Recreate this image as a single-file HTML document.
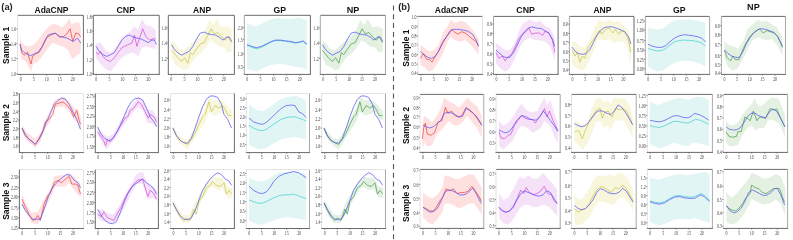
<!DOCTYPE html>
<html><head><meta charset="utf-8"><style>
html,body{margin:0;padding:0;background:#fff;width:793px;height:239px;overflow:hidden}
svg{display:block;will-change:transform}
.t{font-family:"Liberation Serif", serif;font-size:5.3px;fill:#3a3a3a}
.h{font-family:"Liberation Sans", sans-serif;font-size:9.5px;font-weight:bold;fill:#111}
.s{font-family:"Liberation Sans",sans-serif;font-size:9.7px;font-weight:bold;fill:#111}
.pl{font-family:"Liberation Sans", sans-serif;font-size:9.3px;font-weight:bold;fill:#222}
</style></head><body>
<svg width="793" height="239" viewBox="0 0 793 239">
<rect width="793" height="239" fill="#fff"/>
<path d="M20.01,37.09 L21.76,42.62 L24.27,45.13 L29.29,46.38 L33.06,45.13 L38.08,40.10 L43.10,33.08 L48.12,27.05 L53.14,23.79 L58.15,25.04 L61.92,27.55 L65.68,23.79 L69.45,18.77 L71.96,25.04 L75.22,22.53 L79.49,22.53 L80.74,28.81 L80.74,52.66 L76.98,55.17 L73.21,58.93 L70.70,56.42 L68.19,50.15 L63.17,46.38 L58.15,45.13 L53.14,42.62 L48.12,47.64 L43.10,55.17 L38.08,61.44 L33.06,63.95 L31.05,71.49 L29.29,67.72 L25.53,61.44 L21.76,58.93 L20.01,52.66 Z" fill="#ffe0e0" stroke="none"/>
<path d="M20.01,43.87 L21.76,52.66 L24.27,55.17 L27.54,52.15 L29.29,58.93 L31.05,63.95 L32.56,56.42 L35.57,53.91 L39.33,52.15 L43.10,45.13 L46.86,37.59 L50.63,35.08 L55.14,33.08 L59.41,37.09 L63.17,36.84 L66.94,33.83 L70.20,28.81 L72.71,41.36 L75.72,33.08 L78.73,33.83 L80.74,37.09" fill="none" stroke="#f04545" stroke-width="0.75" stroke-linejoin="round"/>
<path d="M20.01,44.62 L21.76,50.15 L24.27,52.66 L26.78,53.91 L30.55,55.67 L34.31,53.91 L38.08,52.15 L41.84,47.13 L45.10,40.10 L48.12,35.08 L51.88,33.83 L55.64,33.33 L59.41,36.34 L63.17,37.09 L66.94,38.10 L70.70,40.10 L73.21,41.36 L77.48,38.10 L80.74,43.12" fill="none" stroke="#5656f4" stroke-width="0.75" stroke-linejoin="round"/>
<line x1="17.60" y1="15.30" x2="83.40" y2="15.30" stroke="#6a6a6a" stroke-width="1"/>
<line x1="17.60" y1="15.30" x2="17.60" y2="74.40" stroke="#e2e2e2" stroke-width="1"/>
<line x1="83.40" y1="15.30" x2="83.40" y2="74.40" stroke="#6a6a6a" stroke-width="1"/>
<line x1="17.10" y1="74.40" x2="83.90" y2="74.40" stroke="#6a6a6a" stroke-width="1"/>
<line x1="16.20" y1="29.02" x2="17.60" y2="29.02" stroke="#555" stroke-width="0.6"/>
<text transform="translate(16.00,31.22) scale(0.74,1)" text-anchor="end" class="t">1.6</text>
<line x1="16.20" y1="43.81" x2="17.60" y2="43.81" stroke="#555" stroke-width="0.6"/>
<text transform="translate(16.00,46.01) scale(0.74,1)" text-anchor="end" class="t">1.4</text>
<line x1="16.20" y1="58.60" x2="17.60" y2="58.60" stroke="#555" stroke-width="0.6"/>
<text transform="translate(16.00,60.80) scale(0.74,1)" text-anchor="end" class="t">1.2</text>
<line x1="16.20" y1="73.81" x2="17.60" y2="73.81" stroke="#555" stroke-width="0.6"/>
<text transform="translate(16.00,76.01) scale(0.74,1)" text-anchor="end" class="t">1.0</text>
<line x1="20.63" y1="74.40" x2="20.63" y2="75.80" stroke="#555" stroke-width="0.6"/>
<text transform="translate(20.63,80.80) scale(0.74,1)" text-anchor="middle" class="t">0</text>
<line x1="33.66" y1="74.40" x2="33.66" y2="75.80" stroke="#555" stroke-width="0.6"/>
<text transform="translate(33.66,80.80) scale(0.74,1)" text-anchor="middle" class="t">5</text>
<line x1="46.68" y1="74.40" x2="46.68" y2="75.80" stroke="#555" stroke-width="0.6"/>
<text transform="translate(46.68,80.80) scale(0.74,1)" text-anchor="middle" class="t">10</text>
<line x1="59.71" y1="74.40" x2="59.71" y2="75.80" stroke="#555" stroke-width="0.6"/>
<text transform="translate(59.71,80.80) scale(0.74,1)" text-anchor="middle" class="t">15</text>
<line x1="72.74" y1="74.40" x2="72.74" y2="75.80" stroke="#555" stroke-width="0.6"/>
<text transform="translate(72.74,80.80) scale(0.74,1)" text-anchor="middle" class="t">20</text>
<path d="M96.01,43.87 L100.53,42.62 L105.55,50.15 L110.57,52.66 L115.58,47.64 L120.60,40.10 L125.62,35.08 L130.64,31.32 L134.40,26.30 L138.17,30.06 L141.93,18.77 L145.70,25.04 L150.72,26.30 L155.73,30.06 L155.73,48.89 L150.72,47.64 L145.70,46.38 L141.93,47.64 L138.17,56.42 L134.40,52.66 L130.64,52.66 L125.62,55.17 L120.60,58.93 L115.58,65.21 L110.57,71.49 L105.55,68.97 L100.53,63.95 L96.01,57.68 Z" fill="#f6e2f8" stroke="none"/>
<path d="M96.01,52.15 L98.02,54.67 L100.53,51.40 L103.04,56.42 L106.80,60.19 L110.57,61.44 L114.33,57.68 L118.09,52.66 L121.86,47.64 L124.37,46.38 L128.13,44.62 L131.90,43.12 L134.40,35.08 L136.91,46.38 L139.42,38.85 L142.69,28.81 L145.70,36.34 L149.46,40.10 L153.22,38.85 L155.73,38.85" fill="none" stroke="#d450d8" stroke-width="0.75" stroke-linejoin="round"/>
<path d="M96.01,46.38 L99.27,51.40 L103.04,54.67 L106.80,56.42 L110.57,54.67 L114.33,52.66 L118.09,46.38 L121.86,40.10 L125.62,36.34 L129.39,35.08 L133.15,37.09 L136.91,38.10 L140.68,38.85 L144.44,40.61 L148.21,42.62 L151.97,40.10 L154.48,40.10 L156.49,44.62" fill="none" stroke="#5656f4" stroke-width="0.75" stroke-linejoin="round"/>
<line x1="93.30" y1="15.30" x2="159.20" y2="15.30" stroke="#6a6a6a" stroke-width="1"/>
<line x1="93.30" y1="15.30" x2="93.30" y2="74.40" stroke="#6a6a6a" stroke-width="1"/>
<line x1="159.20" y1="15.30" x2="159.20" y2="74.40" stroke="#6a6a6a" stroke-width="1"/>
<line x1="92.80" y1="74.40" x2="159.70" y2="74.40" stroke="#6a6a6a" stroke-width="1"/>
<line x1="91.90" y1="16.78" x2="93.30" y2="16.78" stroke="#555" stroke-width="0.6"/>
<text transform="translate(91.70,18.98) scale(0.74,1)" text-anchor="end" class="t">1.8</text>
<line x1="91.90" y1="31.04" x2="93.30" y2="31.04" stroke="#555" stroke-width="0.6"/>
<text transform="translate(91.70,33.24) scale(0.74,1)" text-anchor="end" class="t">1.6</text>
<line x1="91.90" y1="44.70" x2="93.30" y2="44.70" stroke="#555" stroke-width="0.6"/>
<text transform="translate(91.70,46.90) scale(0.74,1)" text-anchor="end" class="t">1.4</text>
<line x1="91.90" y1="60.14" x2="93.30" y2="60.14" stroke="#555" stroke-width="0.6"/>
<text transform="translate(91.70,62.34) scale(0.74,1)" text-anchor="end" class="t">1.2</text>
<line x1="91.90" y1="73.81" x2="93.30" y2="73.81" stroke="#555" stroke-width="0.6"/>
<text transform="translate(91.70,76.01) scale(0.74,1)" text-anchor="end" class="t">1.0</text>
<line x1="96.33" y1="74.40" x2="96.33" y2="75.80" stroke="#555" stroke-width="0.6"/>
<text transform="translate(96.33,80.80) scale(0.74,1)" text-anchor="middle" class="t">0</text>
<line x1="109.38" y1="74.40" x2="109.38" y2="75.80" stroke="#555" stroke-width="0.6"/>
<text transform="translate(109.38,80.80) scale(0.74,1)" text-anchor="middle" class="t">5</text>
<line x1="122.43" y1="74.40" x2="122.43" y2="75.80" stroke="#555" stroke-width="0.6"/>
<text transform="translate(122.43,80.80) scale(0.74,1)" text-anchor="middle" class="t">10</text>
<line x1="135.48" y1="74.40" x2="135.48" y2="75.80" stroke="#555" stroke-width="0.6"/>
<text transform="translate(135.48,80.80) scale(0.74,1)" text-anchor="middle" class="t">15</text>
<line x1="148.52" y1="74.40" x2="148.52" y2="75.80" stroke="#555" stroke-width="0.6"/>
<text transform="translate(148.52,80.80) scale(0.74,1)" text-anchor="middle" class="t">20</text>
<path d="M171.51,40.10 L175.27,43.87 L179.04,48.89 L184.06,50.15 L189.08,45.13 L194.10,41.36 L199.11,37.59 L204.13,32.57 L209.15,20.02 L212.92,25.04 L216.68,18.77 L221.70,27.55 L226.72,26.30 L231.74,28.81 L231.74,51.40 L227.97,52.66 L224.21,47.64 L219.19,46.38 L214.17,42.62 L210.41,40.10 L206.64,46.38 L201.62,52.66 L196.60,56.42 L191.59,62.70 L187.82,68.97 L184.06,70.23 L180.29,67.72 L175.27,65.21 L171.51,57.68 Z" fill="#f8f7dd" stroke="none"/>
<path d="M171.51,50.15 L174.02,52.66 L177.78,57.68 L181.55,61.44 L184.56,57.68 L187.82,63.20 L190.33,52.66 L192.84,54.67 L196.60,48.89 L200.37,43.87 L204.13,42.62 L207.90,35.08 L211.16,28.81 L214.17,33.83 L217.94,32.57 L221.70,37.09 L225.46,40.10 L227.97,36.34 L231.74,42.62" fill="none" stroke="#c8c54a" stroke-width="0.75" stroke-linejoin="round"/>
<path d="M171.51,44.62 L174.02,48.89 L177.78,52.66 L181.55,55.17 L185.31,53.16 L189.08,51.40 L192.84,46.38 L196.60,38.85 L200.37,33.08 L204.13,32.07 L207.90,33.83 L211.66,34.58 L215.43,35.08 L219.19,37.09 L222.95,40.10 L226.72,37.09 L229.23,37.09 L231.74,41.36" fill="none" stroke="#5656f4" stroke-width="0.75" stroke-linejoin="round"/>
<line x1="168.30" y1="15.30" x2="234.40" y2="15.30" stroke="#6a6a6a" stroke-width="1"/>
<line x1="168.30" y1="15.30" x2="168.30" y2="74.40" stroke="#6a6a6a" stroke-width="1"/>
<line x1="234.40" y1="15.30" x2="234.40" y2="74.40" stroke="#6a6a6a" stroke-width="1"/>
<line x1="167.80" y1="74.40" x2="234.90" y2="74.40" stroke="#6a6a6a" stroke-width="1"/>
<line x1="166.90" y1="27.71" x2="168.30" y2="27.71" stroke="#555" stroke-width="0.6"/>
<text transform="translate(166.70,29.91) scale(0.74,1)" text-anchor="end" class="t">1.6</text>
<line x1="166.90" y1="42.98" x2="168.30" y2="42.98" stroke="#555" stroke-width="0.6"/>
<text transform="translate(166.70,45.18) scale(0.74,1)" text-anchor="end" class="t">1.4</text>
<line x1="166.90" y1="58.30" x2="168.30" y2="58.30" stroke="#555" stroke-width="0.6"/>
<text transform="translate(166.70,60.50) scale(0.74,1)" text-anchor="end" class="t">1.2</text>
<line x1="171.34" y1="74.40" x2="171.34" y2="75.80" stroke="#555" stroke-width="0.6"/>
<text transform="translate(171.34,80.80) scale(0.74,1)" text-anchor="middle" class="t">0</text>
<line x1="184.43" y1="74.40" x2="184.43" y2="75.80" stroke="#555" stroke-width="0.6"/>
<text transform="translate(184.43,80.80) scale(0.74,1)" text-anchor="middle" class="t">5</text>
<line x1="197.52" y1="74.40" x2="197.52" y2="75.80" stroke="#555" stroke-width="0.6"/>
<text transform="translate(197.52,80.80) scale(0.74,1)" text-anchor="middle" class="t">10</text>
<line x1="210.60" y1="74.40" x2="210.60" y2="75.80" stroke="#555" stroke-width="0.6"/>
<text transform="translate(210.60,80.80) scale(0.74,1)" text-anchor="middle" class="t">15</text>
<line x1="223.69" y1="74.40" x2="223.69" y2="75.80" stroke="#555" stroke-width="0.6"/>
<text transform="translate(223.69,80.80) scale(0.74,1)" text-anchor="middle" class="t">20</text>
<path d="M247.01,22.53 L251.53,25.04 L256.55,26.30 L261.57,23.79 L269.09,20.02 L276.62,18.01 L284.15,18.77 L291.68,18.77 L299.21,17.51 L306.73,20.02 L306.73,69.73 L301.72,67.72 L294.19,66.46 L286.66,64.71 L279.13,63.95 L271.60,64.71 L264.07,67.72 L256.55,71.49 L251.53,70.23 L247.01,68.97 Z" fill="#e1f6f4" stroke="none"/>
<path d="M247.01,45.13 L251.53,47.13 L256.55,48.89 L261.57,47.13 L266.58,44.62 L271.60,41.86 L275.37,40.61 L280.39,40.61 L285.40,41.36 L290.42,42.11 L295.44,43.12 L299.21,42.62 L302.97,41.36 L306.73,44.62" fill="none" stroke="#45cfcf" stroke-width="0.75" stroke-linejoin="round"/>
<path d="M247.01,44.62 L251.53,46.38 L256.55,47.64 L261.57,46.38 L266.58,43.87 L271.60,41.36 L275.37,40.10 L280.39,40.10 L285.40,40.86 L290.42,41.36 L295.44,42.62 L299.21,42.11 L302.97,40.86 L306.73,43.87" fill="none" stroke="#5656f4" stroke-width="0.75" stroke-linejoin="round"/>
<line x1="244.30" y1="15.30" x2="310.40" y2="15.30" stroke="#6a6a6a" stroke-width="1"/>
<line x1="244.30" y1="15.30" x2="244.30" y2="74.40" stroke="#a8a8a8" stroke-width="1"/>
<line x1="310.40" y1="15.30" x2="310.40" y2="74.40" stroke="#6a6a6a" stroke-width="1"/>
<line x1="243.80" y1="74.40" x2="310.90" y2="74.40" stroke="#6a6a6a" stroke-width="1"/>
<line x1="242.90" y1="27.71" x2="244.30" y2="27.71" stroke="#555" stroke-width="0.6"/>
<text transform="translate(242.70,29.91) scale(0.74,1)" text-anchor="end" class="t">2.0</text>
<line x1="242.90" y1="39.59" x2="244.30" y2="39.59" stroke="#555" stroke-width="0.6"/>
<text transform="translate(242.70,41.79) scale(0.74,1)" text-anchor="end" class="t">1.5</text>
<line x1="242.90" y1="54.20" x2="244.30" y2="54.20" stroke="#555" stroke-width="0.6"/>
<text transform="translate(242.70,56.40) scale(0.74,1)" text-anchor="end" class="t">1.0</text>
<line x1="242.90" y1="67.27" x2="244.30" y2="67.27" stroke="#555" stroke-width="0.6"/>
<text transform="translate(242.70,69.47) scale(0.74,1)" text-anchor="end" class="t">0.5</text>
<line x1="247.34" y1="74.40" x2="247.34" y2="75.80" stroke="#555" stroke-width="0.6"/>
<text transform="translate(247.34,80.80) scale(0.74,1)" text-anchor="middle" class="t">0</text>
<line x1="260.43" y1="74.40" x2="260.43" y2="75.80" stroke="#555" stroke-width="0.6"/>
<text transform="translate(260.43,80.80) scale(0.74,1)" text-anchor="middle" class="t">5</text>
<line x1="273.52" y1="74.40" x2="273.52" y2="75.80" stroke="#555" stroke-width="0.6"/>
<text transform="translate(273.52,80.80) scale(0.74,1)" text-anchor="middle" class="t">10</text>
<line x1="286.60" y1="74.40" x2="286.60" y2="75.80" stroke="#555" stroke-width="0.6"/>
<text transform="translate(286.60,80.80) scale(0.74,1)" text-anchor="middle" class="t">15</text>
<line x1="299.69" y1="74.40" x2="299.69" y2="75.80" stroke="#555" stroke-width="0.6"/>
<text transform="translate(299.69,80.80) scale(0.74,1)" text-anchor="middle" class="t">20</text>
<path d="M322.51,40.10 L326.27,43.87 L330.04,48.89 L335.06,50.15 L340.08,45.13 L345.10,41.36 L350.11,37.59 L355.13,32.57 L360.15,20.02 L363.92,25.04 L367.68,18.77 L372.70,27.55 L377.72,26.30 L382.74,28.81 L382.74,51.40 L378.97,52.66 L375.21,47.64 L370.19,46.38 L365.17,42.62 L361.41,40.10 L357.64,46.38 L352.62,52.66 L347.60,56.42 L342.59,62.70 L338.82,68.97 L335.06,70.23 L331.29,67.72 L326.27,65.21 L322.51,57.68 Z" fill="#e4f1e2" stroke="none"/>
<path d="M322.51,50.15 L325.52,53.91 L328.78,58.18 L332.55,61.44 L335.56,57.68 L338.82,63.20 L341.33,52.66 L343.84,54.67 L347.60,48.89 L351.37,43.87 L355.13,42.62 L358.90,35.08 L362.16,28.81 L365.17,33.83 L368.94,32.57 L372.70,37.09 L376.46,40.10 L378.97,36.34 L382.74,42.62" fill="none" stroke="#4a9e4a" stroke-width="0.75" stroke-linejoin="round"/>
<path d="M322.51,44.62 L325.02,48.89 L328.78,52.66 L332.55,55.17 L336.31,53.16 L340.08,51.40 L343.84,46.38 L347.60,38.85 L351.37,33.08 L355.13,32.07 L358.90,33.83 L362.66,34.58 L366.43,35.08 L370.19,37.09 L373.95,40.10 L377.72,37.09 L380.23,37.09 L382.74,41.36" fill="none" stroke="#5656f4" stroke-width="0.75" stroke-linejoin="round"/>
<line x1="320.30" y1="15.30" x2="385.50" y2="15.30" stroke="#6a6a6a" stroke-width="1"/>
<line x1="320.30" y1="15.30" x2="320.30" y2="74.40" stroke="#a8a8a8" stroke-width="1"/>
<line x1="385.50" y1="15.30" x2="385.50" y2="74.40" stroke="#a8a8a8" stroke-width="1"/>
<line x1="319.80" y1="74.40" x2="386.00" y2="74.40" stroke="#6a6a6a" stroke-width="1"/>
<line x1="318.90" y1="27.71" x2="320.30" y2="27.71" stroke="#555" stroke-width="0.6"/>
<text transform="translate(318.70,29.91) scale(0.74,1)" text-anchor="end" class="t">1.6</text>
<line x1="318.90" y1="42.98" x2="320.30" y2="42.98" stroke="#555" stroke-width="0.6"/>
<text transform="translate(318.70,45.18) scale(0.74,1)" text-anchor="end" class="t">1.4</text>
<line x1="318.90" y1="58.30" x2="320.30" y2="58.30" stroke="#555" stroke-width="0.6"/>
<text transform="translate(318.70,60.50) scale(0.74,1)" text-anchor="end" class="t">1.2</text>
<line x1="323.30" y1="74.40" x2="323.30" y2="75.80" stroke="#555" stroke-width="0.6"/>
<text transform="translate(323.30,80.80) scale(0.74,1)" text-anchor="middle" class="t">0</text>
<line x1="336.21" y1="74.40" x2="336.21" y2="75.80" stroke="#555" stroke-width="0.6"/>
<text transform="translate(336.21,80.80) scale(0.74,1)" text-anchor="middle" class="t">5</text>
<line x1="349.12" y1="74.40" x2="349.12" y2="75.80" stroke="#555" stroke-width="0.6"/>
<text transform="translate(349.12,80.80) scale(0.74,1)" text-anchor="middle" class="t">10</text>
<line x1="362.03" y1="74.40" x2="362.03" y2="75.80" stroke="#555" stroke-width="0.6"/>
<text transform="translate(362.03,80.80) scale(0.74,1)" text-anchor="middle" class="t">15</text>
<line x1="374.94" y1="74.40" x2="374.94" y2="75.80" stroke="#555" stroke-width="0.6"/>
<text transform="translate(374.94,80.80) scale(0.74,1)" text-anchor="middle" class="t">20</text>
<path d="M22.01,124.38 L26.53,131.91 L31.55,135.68 L35.31,139.44 L40.33,133.17 L45.35,119.36 L50.37,110.57 L54.14,100.53 L59.15,98.02 L64.17,96.77 L69.19,101.79 L74.21,108.06 L77.98,109.32 L81.24,118.10 L81.24,130.66 L77.98,121.87 L74.21,120.62 L69.19,111.83 L64.17,106.81 L59.15,106.81 L54.14,108.06 L50.37,121.87 L45.35,128.15 L40.33,141.95 L35.31,148.23 L31.55,144.46 L26.53,140.70 L22.01,131.91 Z" fill="#ffe0e0" stroke="none"/>
<path d="M22.01,128.15 L25.27,135.68 L29.04,139.44 L31.55,140.70 L33.56,143.21 L35.31,144.46 L39.08,138.19 L42.84,130.66 L45.35,121.87 L49.12,119.36 L52.88,114.34 L55.39,104.30 L59.15,103.04 L62.92,101.79 L66.68,105.05 L70.45,109.32 L73.71,116.85 L76.72,110.57 L79.23,120.62 L80.49,124.38" fill="none" stroke="#f04545" stroke-width="0.75" stroke-linejoin="round"/>
<path d="M22.01,128.15 L25.27,134.42 L29.04,139.44 L32.80,141.95 L35.31,144.46 L39.08,139.44 L42.84,131.91 L46.61,121.87 L50.37,113.08 L54.14,104.30 L57.90,100.53 L61.66,98.02 L65.43,99.28 L69.19,104.30 L72.96,111.83 L76.72,119.36 L80.49,129.40" fill="none" stroke="#5656f4" stroke-width="0.75" stroke-linejoin="round"/>
<line x1="19.40" y1="93.50" x2="83.40" y2="93.50" stroke="#e2e2e2" stroke-width="1"/>
<line x1="19.40" y1="93.50" x2="19.40" y2="152.60" stroke="#6a6a6a" stroke-width="1"/>
<line x1="83.40" y1="93.50" x2="83.40" y2="152.60" stroke="#e2e2e2" stroke-width="1"/>
<line x1="18.90" y1="152.60" x2="83.90" y2="152.60" stroke="#6a6a6a" stroke-width="1"/>
<line x1="18.00" y1="93.98" x2="19.40" y2="93.98" stroke="#555" stroke-width="0.6"/>
<text transform="translate(17.80,96.18) scale(0.74,1)" text-anchor="end" class="t">2.8</text>
<line x1="18.00" y1="102.56" x2="19.40" y2="102.56" stroke="#555" stroke-width="0.6"/>
<text transform="translate(17.80,104.76) scale(0.74,1)" text-anchor="end" class="t">2.6</text>
<line x1="18.00" y1="111.32" x2="19.40" y2="111.32" stroke="#555" stroke-width="0.6"/>
<text transform="translate(17.80,113.52) scale(0.74,1)" text-anchor="end" class="t">2.4</text>
<line x1="18.00" y1="120.08" x2="19.40" y2="120.08" stroke="#555" stroke-width="0.6"/>
<text transform="translate(17.80,122.28) scale(0.74,1)" text-anchor="end" class="t">2.2</text>
<line x1="18.00" y1="128.84" x2="19.40" y2="128.84" stroke="#555" stroke-width="0.6"/>
<text transform="translate(17.80,131.04) scale(0.74,1)" text-anchor="end" class="t">2.0</text>
<line x1="18.00" y1="137.31" x2="19.40" y2="137.31" stroke="#555" stroke-width="0.6"/>
<text transform="translate(17.80,139.51) scale(0.74,1)" text-anchor="end" class="t">1.8</text>
<line x1="18.00" y1="145.78" x2="19.40" y2="145.78" stroke="#555" stroke-width="0.6"/>
<text transform="translate(17.80,147.98) scale(0.74,1)" text-anchor="end" class="t">1.6</text>
<line x1="22.34" y1="152.60" x2="22.34" y2="154.00" stroke="#555" stroke-width="0.6"/>
<text transform="translate(22.34,159.00) scale(0.74,1)" text-anchor="middle" class="t">0</text>
<line x1="35.02" y1="152.60" x2="35.02" y2="154.00" stroke="#555" stroke-width="0.6"/>
<text transform="translate(35.02,159.00) scale(0.74,1)" text-anchor="middle" class="t">5</text>
<line x1="47.69" y1="152.60" x2="47.69" y2="154.00" stroke="#555" stroke-width="0.6"/>
<text transform="translate(47.69,159.00) scale(0.74,1)" text-anchor="middle" class="t">10</text>
<line x1="60.36" y1="152.60" x2="60.36" y2="154.00" stroke="#555" stroke-width="0.6"/>
<text transform="translate(60.36,159.00) scale(0.74,1)" text-anchor="middle" class="t">15</text>
<line x1="73.03" y1="152.60" x2="73.03" y2="154.00" stroke="#555" stroke-width="0.6"/>
<text transform="translate(73.03,159.00) scale(0.74,1)" text-anchor="middle" class="t">20</text>
<path d="M97.51,128.15 L102.53,133.17 L107.55,136.93 L113.82,133.17 L120.10,121.87 L126.37,111.83 L132.65,104.30 L138.17,96.77 L142.69,100.53 L147.71,109.32 L152.73,110.57 L157.24,118.10 L157.24,126.89 L152.73,123.13 L147.71,123.13 L142.69,110.57 L138.17,106.81 L132.65,113.08 L126.37,121.87 L121.35,128.15 L115.08,139.44 L110.06,144.46 L106.29,149.49 L102.53,143.21 L97.51,134.42 Z" fill="#f6e2f8" stroke="none"/>
<path d="M97.51,131.91 L101.27,136.93 L103.78,140.70 L105.54,145.72 L107.55,139.44 L110.06,141.95 L113.82,136.93 L117.59,130.66 L121.35,124.38 L125.12,118.10 L127.63,116.85 L130.14,110.57 L133.90,108.06 L138.17,101.79 L141.43,104.30 L145.20,111.83 L148.21,118.10 L150.22,114.34 L153.98,116.85 L156.49,121.87" fill="none" stroke="#d450d8" stroke-width="0.75" stroke-linejoin="round"/>
<path d="M97.51,126.89 L101.27,134.42 L105.04,138.69 L108.80,140.70 L112.57,138.69 L116.33,133.17 L120.10,125.64 L123.86,116.85 L127.63,108.06 L131.39,101.79 L135.16,98.52 L138.92,98.02 L142.69,100.03 L146.45,108.06 L150.22,116.85 L153.98,121.87 L156.49,126.89" fill="none" stroke="#5656f4" stroke-width="0.75" stroke-linejoin="round"/>
<line x1="95.30" y1="93.50" x2="158.40" y2="93.50" stroke="#e2e2e2" stroke-width="1"/>
<line x1="95.30" y1="93.50" x2="95.30" y2="152.60" stroke="#6a6a6a" stroke-width="1"/>
<line x1="158.40" y1="93.50" x2="158.40" y2="152.60" stroke="#6a6a6a" stroke-width="1"/>
<line x1="94.80" y1="152.60" x2="158.90" y2="152.60" stroke="#6a6a6a" stroke-width="1"/>
<line x1="93.90" y1="96.14" x2="95.30" y2="96.14" stroke="#555" stroke-width="0.6"/>
<text transform="translate(93.70,98.34) scale(0.74,1)" text-anchor="end" class="t">2.75</text>
<line x1="93.90" y1="106.36" x2="95.30" y2="106.36" stroke="#555" stroke-width="0.6"/>
<text transform="translate(93.70,108.56) scale(0.74,1)" text-anchor="end" class="t">2.50</text>
<line x1="93.90" y1="116.28" x2="95.30" y2="116.28" stroke="#555" stroke-width="0.6"/>
<text transform="translate(93.70,118.48) scale(0.74,1)" text-anchor="end" class="t">2.25</text>
<line x1="93.90" y1="126.50" x2="95.30" y2="126.50" stroke="#555" stroke-width="0.6"/>
<text transform="translate(93.70,128.70) scale(0.74,1)" text-anchor="end" class="t">2.00</text>
<line x1="93.90" y1="136.14" x2="95.30" y2="136.14" stroke="#555" stroke-width="0.6"/>
<text transform="translate(93.70,138.34) scale(0.74,1)" text-anchor="end" class="t">1.75</text>
<line x1="93.90" y1="146.36" x2="95.30" y2="146.36" stroke="#555" stroke-width="0.6"/>
<text transform="translate(93.70,148.56) scale(0.74,1)" text-anchor="end" class="t">1.50</text>
<line x1="98.20" y1="152.60" x2="98.20" y2="154.00" stroke="#555" stroke-width="0.6"/>
<text transform="translate(98.20,159.00) scale(0.74,1)" text-anchor="middle" class="t">0</text>
<line x1="110.70" y1="152.60" x2="110.70" y2="154.00" stroke="#555" stroke-width="0.6"/>
<text transform="translate(110.70,159.00) scale(0.74,1)" text-anchor="middle" class="t">5</text>
<line x1="123.19" y1="152.60" x2="123.19" y2="154.00" stroke="#555" stroke-width="0.6"/>
<text transform="translate(123.19,159.00) scale(0.74,1)" text-anchor="middle" class="t">10</text>
<line x1="135.68" y1="152.60" x2="135.68" y2="154.00" stroke="#555" stroke-width="0.6"/>
<text transform="translate(135.68,159.00) scale(0.74,1)" text-anchor="middle" class="t">15</text>
<line x1="148.18" y1="152.60" x2="148.18" y2="154.00" stroke="#555" stroke-width="0.6"/>
<text transform="translate(148.18,159.00) scale(0.74,1)" text-anchor="middle" class="t">20</text>
<path d="M173.01,125.64 L177.53,133.17 L182.55,138.19 L187.57,139.44 L193.84,129.40 L200.12,116.85 L205.14,108.06 L208.90,96.77 L213.92,100.53 L218.94,99.28 L223.96,101.79 L228.98,108.06 L232.24,110.57 L232.24,120.62 L228.98,119.36 L223.96,111.83 L218.94,114.34 L213.92,115.59 L208.90,111.83 L205.14,121.87 L200.12,129.40 L193.84,139.44 L187.57,149.49 L182.55,145.72 L177.53,140.70 L173.01,130.66 Z" fill="#f8f7dd" stroke="none"/>
<path d="M173.01,128.15 L176.27,136.18 L180.04,140.70 L183.80,142.71 L187.57,144.46 L191.33,139.44 L195.10,133.17 L198.86,124.38 L202.63,116.85 L205.14,114.34 L208.90,101.79 L211.41,111.83 L215.18,105.55 L218.94,108.06 L222.71,105.55 L225.22,109.32 L228.23,115.59 L231.49,115.59" fill="none" stroke="#c8c54a" stroke-width="0.75" stroke-linejoin="round"/>
<path d="M173.01,128.15 L176.27,135.18 L180.04,140.20 L183.80,142.71 L187.57,143.21 L191.33,138.19 L195.10,128.15 L198.86,116.85 L202.63,106.81 L206.39,99.28 L210.16,96.01 L213.92,96.01 L217.69,97.52 L221.45,104.30 L223.96,114.34 L227.73,119.36 L231.49,128.15" fill="none" stroke="#5656f4" stroke-width="0.75" stroke-linejoin="round"/>
<line x1="170.50" y1="93.50" x2="234.40" y2="93.50" stroke="#e2e2e2" stroke-width="1"/>
<line x1="170.50" y1="93.50" x2="170.50" y2="152.60" stroke="#e2e2e2" stroke-width="1"/>
<line x1="234.40" y1="93.50" x2="234.40" y2="152.60" stroke="#6a6a6a" stroke-width="1"/>
<line x1="170.00" y1="152.60" x2="234.90" y2="152.60" stroke="#6a6a6a" stroke-width="1"/>
<line x1="169.10" y1="99.99" x2="170.50" y2="99.99" stroke="#555" stroke-width="0.6"/>
<text transform="translate(168.90,102.19) scale(0.74,1)" text-anchor="end" class="t">2.6</text>
<line x1="169.10" y1="109.57" x2="170.50" y2="109.57" stroke="#555" stroke-width="0.6"/>
<text transform="translate(168.90,111.77) scale(0.74,1)" text-anchor="end" class="t">2.4</text>
<line x1="169.10" y1="118.50" x2="170.50" y2="118.50" stroke="#555" stroke-width="0.6"/>
<text transform="translate(168.90,120.70) scale(0.74,1)" text-anchor="end" class="t">2.2</text>
<line x1="169.10" y1="128.02" x2="170.50" y2="128.02" stroke="#555" stroke-width="0.6"/>
<text transform="translate(168.90,130.22) scale(0.74,1)" text-anchor="end" class="t">2.0</text>
<line x1="169.10" y1="136.72" x2="170.50" y2="136.72" stroke="#555" stroke-width="0.6"/>
<text transform="translate(168.90,138.92) scale(0.74,1)" text-anchor="end" class="t">1.8</text>
<line x1="169.10" y1="146.07" x2="170.50" y2="146.07" stroke="#555" stroke-width="0.6"/>
<text transform="translate(168.90,148.27) scale(0.74,1)" text-anchor="end" class="t">1.6</text>
<line x1="173.44" y1="152.60" x2="173.44" y2="154.00" stroke="#555" stroke-width="0.6"/>
<text transform="translate(173.44,159.00) scale(0.74,1)" text-anchor="middle" class="t">0</text>
<line x1="186.09" y1="152.60" x2="186.09" y2="154.00" stroke="#555" stroke-width="0.6"/>
<text transform="translate(186.09,159.00) scale(0.74,1)" text-anchor="middle" class="t">5</text>
<line x1="198.74" y1="152.60" x2="198.74" y2="154.00" stroke="#555" stroke-width="0.6"/>
<text transform="translate(198.74,159.00) scale(0.74,1)" text-anchor="middle" class="t">10</text>
<line x1="211.40" y1="152.60" x2="211.40" y2="154.00" stroke="#555" stroke-width="0.6"/>
<text transform="translate(211.40,159.00) scale(0.74,1)" text-anchor="middle" class="t">15</text>
<line x1="224.05" y1="152.60" x2="224.05" y2="154.00" stroke="#555" stroke-width="0.6"/>
<text transform="translate(224.05,159.00) scale(0.74,1)" text-anchor="middle" class="t">20</text>
<path d="M249.01,104.30 L253.53,108.06 L258.55,110.57 L263.57,111.08 L268.59,108.06 L273.61,104.30 L278.63,100.53 L283.65,98.02 L288.67,96.77 L296.20,96.01 L301.22,98.02 L306.24,100.53 L306.24,139.44 L301.22,138.19 L296.20,136.93 L288.67,137.69 L281.14,139.44 L273.61,143.21 L266.08,148.23 L258.55,149.49 L253.53,146.97 L249.01,144.46 Z" fill="#e1f6f4" stroke="none"/>
<path d="M249.01,125.13 L253.53,128.15 L258.55,130.15 L262.32,130.66 L266.08,129.40 L271.10,126.14 L276.12,122.62 L281.14,119.36 L286.16,117.60 L291.18,116.85 L294.95,116.85 L298.71,118.10 L302.48,119.36 L306.24,121.12" fill="none" stroke="#45cfcf" stroke-width="0.75" stroke-linejoin="round"/>
<path d="M249.01,118.10 L253.53,121.87 L258.55,123.63 L262.32,124.38 L266.08,122.62 L271.10,118.10 L276.12,113.08 L281.14,108.56 L286.16,105.55 L291.18,105.05 L294.95,105.55 L298.71,111.83 L302.48,113.59 L306.24,117.60" fill="none" stroke="#5656f4" stroke-width="0.75" stroke-linejoin="round"/>
<line x1="246.30" y1="93.50" x2="309.50" y2="93.50" stroke="#e2e2e2" stroke-width="1"/>
<line x1="246.30" y1="93.50" x2="246.30" y2="152.60" stroke="#e2e2e2" stroke-width="1"/>
<line x1="309.50" y1="93.50" x2="309.50" y2="152.60" stroke="#a8a8a8" stroke-width="1"/>
<line x1="245.80" y1="152.60" x2="310.00" y2="152.60" stroke="#6a6a6a" stroke-width="1"/>
<line x1="244.90" y1="99.06" x2="246.30" y2="99.06" stroke="#555" stroke-width="0.6"/>
<text transform="translate(244.70,101.26) scale(0.74,1)" text-anchor="end" class="t">3.0</text>
<line x1="244.90" y1="107.82" x2="246.30" y2="107.82" stroke="#555" stroke-width="0.6"/>
<text transform="translate(244.70,110.02) scale(0.74,1)" text-anchor="end" class="t">2.5</text>
<line x1="244.90" y1="117.16" x2="246.30" y2="117.16" stroke="#555" stroke-width="0.6"/>
<text transform="translate(244.70,119.36) scale(0.74,1)" text-anchor="end" class="t">2.0</text>
<line x1="244.90" y1="125.92" x2="246.30" y2="125.92" stroke="#555" stroke-width="0.6"/>
<text transform="translate(244.70,128.12) scale(0.74,1)" text-anchor="end" class="t">1.5</text>
<line x1="244.90" y1="135.26" x2="246.30" y2="135.26" stroke="#555" stroke-width="0.6"/>
<text transform="translate(244.70,137.46) scale(0.74,1)" text-anchor="end" class="t">1.0</text>
<line x1="244.90" y1="144.61" x2="246.30" y2="144.61" stroke="#555" stroke-width="0.6"/>
<text transform="translate(244.70,146.81) scale(0.74,1)" text-anchor="end" class="t">0.5</text>
<line x1="249.21" y1="152.60" x2="249.21" y2="154.00" stroke="#555" stroke-width="0.6"/>
<text transform="translate(249.21,159.00) scale(0.74,1)" text-anchor="middle" class="t">0</text>
<line x1="261.72" y1="152.60" x2="261.72" y2="154.00" stroke="#555" stroke-width="0.6"/>
<text transform="translate(261.72,159.00) scale(0.74,1)" text-anchor="middle" class="t">5</text>
<line x1="274.23" y1="152.60" x2="274.23" y2="154.00" stroke="#555" stroke-width="0.6"/>
<text transform="translate(274.23,159.00) scale(0.74,1)" text-anchor="middle" class="t">10</text>
<line x1="286.75" y1="152.60" x2="286.75" y2="154.00" stroke="#555" stroke-width="0.6"/>
<text transform="translate(286.75,159.00) scale(0.74,1)" text-anchor="middle" class="t">15</text>
<line x1="299.26" y1="152.60" x2="299.26" y2="154.00" stroke="#555" stroke-width="0.6"/>
<text transform="translate(299.26,159.00) scale(0.74,1)" text-anchor="middle" class="t">20</text>
<path d="M324.01,125.64 L328.53,133.17 L333.55,138.19 L338.57,139.44 L344.84,129.40 L351.12,116.85 L356.14,108.06 L359.90,96.77 L364.92,100.53 L369.94,99.28 L374.96,101.79 L379.98,108.06 L383.24,110.57 L383.24,120.62 L379.98,119.36 L374.96,111.83 L369.94,114.34 L364.92,115.59 L359.90,111.83 L356.14,121.87 L351.12,129.40 L344.84,139.44 L338.57,149.49 L333.55,145.72 L328.53,140.70 L324.01,130.66 Z" fill="#e4f1e2" stroke="none"/>
<path d="M324.01,128.15 L327.27,136.18 L331.04,140.70 L334.80,142.71 L338.57,144.46 L342.33,139.44 L346.10,133.17 L349.86,124.38 L353.63,116.85 L356.14,114.34 L359.90,101.79 L362.41,111.83 L366.18,105.55 L369.94,108.06 L373.71,105.55 L376.22,109.32 L379.23,115.59 L382.49,115.59" fill="none" stroke="#4a9e4a" stroke-width="0.75" stroke-linejoin="round"/>
<path d="M324.01,128.15 L327.27,135.18 L331.04,140.20 L334.80,142.71 L338.57,143.21 L342.33,138.19 L346.10,128.15 L349.86,116.85 L353.63,106.81 L357.39,99.28 L361.16,96.01 L364.92,96.01 L368.69,97.52 L372.45,104.30 L374.96,114.34 L378.73,119.36 L382.49,128.15" fill="none" stroke="#5656f4" stroke-width="0.75" stroke-linejoin="round"/>
<line x1="321.70" y1="93.50" x2="385.50" y2="93.50" stroke="#e2e2e2" stroke-width="1"/>
<line x1="321.70" y1="93.50" x2="321.70" y2="152.60" stroke="#e2e2e2" stroke-width="1"/>
<line x1="385.50" y1="93.50" x2="385.50" y2="152.60" stroke="#a8a8a8" stroke-width="1"/>
<line x1="321.20" y1="152.60" x2="386.00" y2="152.60" stroke="#6a6a6a" stroke-width="1"/>
<line x1="320.30" y1="99.99" x2="321.70" y2="99.99" stroke="#555" stroke-width="0.6"/>
<text transform="translate(320.10,102.19) scale(0.74,1)" text-anchor="end" class="t">2.6</text>
<line x1="320.30" y1="109.57" x2="321.70" y2="109.57" stroke="#555" stroke-width="0.6"/>
<text transform="translate(320.10,111.77) scale(0.74,1)" text-anchor="end" class="t">2.4</text>
<line x1="320.30" y1="118.50" x2="321.70" y2="118.50" stroke="#555" stroke-width="0.6"/>
<text transform="translate(320.10,120.70) scale(0.74,1)" text-anchor="end" class="t">2.2</text>
<line x1="320.30" y1="128.02" x2="321.70" y2="128.02" stroke="#555" stroke-width="0.6"/>
<text transform="translate(320.10,130.22) scale(0.74,1)" text-anchor="end" class="t">2.0</text>
<line x1="320.30" y1="136.72" x2="321.70" y2="136.72" stroke="#555" stroke-width="0.6"/>
<text transform="translate(320.10,138.92) scale(0.74,1)" text-anchor="end" class="t">1.8</text>
<line x1="320.30" y1="146.07" x2="321.70" y2="146.07" stroke="#555" stroke-width="0.6"/>
<text transform="translate(320.10,148.27) scale(0.74,1)" text-anchor="end" class="t">1.6</text>
<line x1="324.63" y1="152.60" x2="324.63" y2="154.00" stroke="#555" stroke-width="0.6"/>
<text transform="translate(324.63,159.00) scale(0.74,1)" text-anchor="middle" class="t">0</text>
<line x1="337.27" y1="152.60" x2="337.27" y2="154.00" stroke="#555" stroke-width="0.6"/>
<text transform="translate(337.27,159.00) scale(0.74,1)" text-anchor="middle" class="t">5</text>
<line x1="349.90" y1="152.60" x2="349.90" y2="154.00" stroke="#555" stroke-width="0.6"/>
<text transform="translate(349.90,159.00) scale(0.74,1)" text-anchor="middle" class="t">10</text>
<line x1="362.53" y1="152.60" x2="362.53" y2="154.00" stroke="#555" stroke-width="0.6"/>
<text transform="translate(362.53,159.00) scale(0.74,1)" text-anchor="middle" class="t">15</text>
<line x1="375.16" y1="152.60" x2="375.16" y2="154.00" stroke="#555" stroke-width="0.6"/>
<text transform="translate(375.16,159.00) scale(0.74,1)" text-anchor="middle" class="t">20</text>
<path d="M22.01,194.10 L26.53,204.15 L31.55,212.93 L37.82,211.68 L44.10,199.13 L50.37,189.08 L54.14,176.53 L59.16,175.28 L65.43,175.28 L69.20,172.77 L74.22,176.53 L80.49,184.06 L80.49,197.87 L74.22,190.34 L69.20,182.81 L65.43,186.57 L59.16,186.57 L55.39,186.57 L50.37,197.87 L44.10,211.68 L37.82,224.23 L31.55,222.97 L26.53,212.93 L22.01,205.40 Z" fill="#ffe0e0" stroke="none"/>
<path d="M22.01,199.13 L25.27,206.66 L29.04,214.19 L32.80,220.46 L35.31,219.21 L37.82,215.44 L40.33,220.46 L44.10,204.15 L47.86,195.36 L50.37,192.85 L54.14,182.81 L57.90,180.30 L61.67,182.81 L65.43,179.04 L69.20,176.53 L71.71,184.06 L75.47,184.06 L77.98,185.32 L80.49,194.10" fill="none" stroke="#f04545" stroke-width="0.75" stroke-linejoin="round"/>
<path d="M22.01,204.15 L25.27,210.42 L29.04,215.44 L32.80,219.21 L36.57,219.21 L40.33,219.21 L44.10,209.17 L47.86,197.87 L51.63,189.08 L55.39,184.06 L59.16,180.30 L62.92,177.03 L66.69,174.52 L70.45,175.28 L74.22,180.30 L77.98,182.81 L80.49,187.83" fill="none" stroke="#5656f4" stroke-width="0.75" stroke-linejoin="round"/>
<line x1="19.40" y1="169.60" x2="83.40" y2="169.60" stroke="#e2e2e2" stroke-width="1"/>
<line x1="19.40" y1="169.60" x2="19.40" y2="228.50" stroke="#6a6a6a" stroke-width="1"/>
<line x1="83.40" y1="169.60" x2="83.40" y2="228.50" stroke="#e2e2e2" stroke-width="1"/>
<line x1="18.90" y1="228.50" x2="83.90" y2="228.50" stroke="#6a6a6a" stroke-width="1"/>
<line x1="18.00" y1="177.21" x2="19.40" y2="177.21" stroke="#555" stroke-width="0.6"/>
<text transform="translate(17.80,179.41) scale(0.74,1)" text-anchor="end" class="t">2.50</text>
<line x1="18.00" y1="187.59" x2="19.40" y2="187.59" stroke="#555" stroke-width="0.6"/>
<text transform="translate(17.80,189.79) scale(0.74,1)" text-anchor="end" class="t">2.25</text>
<line x1="18.00" y1="197.03" x2="19.40" y2="197.03" stroke="#555" stroke-width="0.6"/>
<text transform="translate(17.80,199.23) scale(0.74,1)" text-anchor="end" class="t">2.00</text>
<line x1="18.00" y1="207.95" x2="19.40" y2="207.95" stroke="#555" stroke-width="0.6"/>
<text transform="translate(17.80,210.15) scale(0.74,1)" text-anchor="end" class="t">1.75</text>
<line x1="18.00" y1="217.98" x2="19.40" y2="217.98" stroke="#555" stroke-width="0.6"/>
<text transform="translate(17.80,220.18) scale(0.74,1)" text-anchor="end" class="t">1.50</text>
<line x1="18.00" y1="227.71" x2="19.40" y2="227.71" stroke="#555" stroke-width="0.6"/>
<text transform="translate(17.80,229.91) scale(0.74,1)" text-anchor="end" class="t">1.25</text>
<line x1="22.34" y1="228.50" x2="22.34" y2="229.90" stroke="#555" stroke-width="0.6"/>
<text transform="translate(22.34,234.90) scale(0.74,1)" text-anchor="middle" class="t">0</text>
<line x1="35.02" y1="228.50" x2="35.02" y2="229.90" stroke="#555" stroke-width="0.6"/>
<text transform="translate(35.02,234.90) scale(0.74,1)" text-anchor="middle" class="t">5</text>
<line x1="47.69" y1="228.50" x2="47.69" y2="229.90" stroke="#555" stroke-width="0.6"/>
<text transform="translate(47.69,234.90) scale(0.74,1)" text-anchor="middle" class="t">10</text>
<line x1="60.36" y1="228.50" x2="60.36" y2="229.90" stroke="#555" stroke-width="0.6"/>
<text transform="translate(60.36,234.90) scale(0.74,1)" text-anchor="middle" class="t">15</text>
<line x1="73.03" y1="228.50" x2="73.03" y2="229.90" stroke="#555" stroke-width="0.6"/>
<text transform="translate(73.03,234.90) scale(0.74,1)" text-anchor="middle" class="t">20</text>
<path d="M97.51,210.42 L102.53,209.17 L107.55,212.93 L113.82,214.19 L120.10,204.15 L126.37,192.85 L131.39,184.06 L136.41,174.02 L142.69,171.51 L147.71,184.06 L153.98,186.57 L157.24,191.59 L157.24,201.64 L153.98,197.87 L147.71,199.13 L142.69,184.06 L136.41,184.06 L131.39,192.85 L126.37,204.15 L120.10,215.44 L113.82,222.97 L107.55,221.72 L102.53,221.72 L97.51,217.95 Z" fill="#f6e2f8" stroke="none"/>
<path d="M97.51,214.19 L101.27,216.70 L103.78,211.68 L107.55,217.95 L111.31,219.21 L113.82,220.46 L117.59,212.93 L121.35,206.66 L125.12,197.87 L130.14,189.08 L133.90,184.06 L137.67,180.30 L142.69,179.04 L145.20,187.83 L147.71,196.62 L150.22,190.34 L153.23,192.85 L156.49,199.13" fill="none" stroke="#d450d8" stroke-width="0.75" stroke-linejoin="round"/>
<path d="M97.51,209.17 L101.27,215.44 L105.04,220.46 L108.80,222.97 L112.57,223.73 L116.33,221.72 L120.10,212.93 L123.86,202.89 L127.63,194.10 L131.39,187.83 L135.16,184.06 L138.92,181.55 L142.69,179.04 L146.45,182.81 L150.22,185.32 L153.98,189.08 L156.49,194.10" fill="none" stroke="#5656f4" stroke-width="0.75" stroke-linejoin="round"/>
<line x1="95.30" y1="169.60" x2="158.40" y2="169.60" stroke="#e2e2e2" stroke-width="1"/>
<line x1="95.30" y1="169.60" x2="95.30" y2="228.50" stroke="#6a6a6a" stroke-width="1"/>
<line x1="158.40" y1="169.60" x2="158.40" y2="228.50" stroke="#6a6a6a" stroke-width="1"/>
<line x1="94.80" y1="228.50" x2="158.90" y2="228.50" stroke="#6a6a6a" stroke-width="1"/>
<line x1="93.90" y1="172.49" x2="95.30" y2="172.49" stroke="#555" stroke-width="0.6"/>
<text transform="translate(93.70,174.69) scale(0.74,1)" text-anchor="end" class="t">2.75</text>
<line x1="93.90" y1="182.28" x2="95.30" y2="182.28" stroke="#555" stroke-width="0.6"/>
<text transform="translate(93.70,184.48) scale(0.74,1)" text-anchor="end" class="t">2.50</text>
<line x1="93.90" y1="192.31" x2="95.30" y2="192.31" stroke="#555" stroke-width="0.6"/>
<text transform="translate(93.70,194.51) scale(0.74,1)" text-anchor="end" class="t">2.25</text>
<line x1="93.90" y1="202.58" x2="95.30" y2="202.58" stroke="#555" stroke-width="0.6"/>
<text transform="translate(93.70,204.78) scale(0.74,1)" text-anchor="end" class="t">2.00</text>
<line x1="93.90" y1="212.67" x2="95.30" y2="212.67" stroke="#555" stroke-width="0.6"/>
<text transform="translate(93.70,214.87) scale(0.74,1)" text-anchor="end" class="t">1.75</text>
<line x1="93.90" y1="222.11" x2="95.30" y2="222.11" stroke="#555" stroke-width="0.6"/>
<text transform="translate(93.70,224.31) scale(0.74,1)" text-anchor="end" class="t">1.50</text>
<line x1="98.20" y1="228.50" x2="98.20" y2="229.90" stroke="#555" stroke-width="0.6"/>
<text transform="translate(98.20,234.90) scale(0.74,1)" text-anchor="middle" class="t">0</text>
<line x1="110.70" y1="228.50" x2="110.70" y2="229.90" stroke="#555" stroke-width="0.6"/>
<text transform="translate(110.70,234.90) scale(0.74,1)" text-anchor="middle" class="t">5</text>
<line x1="123.19" y1="228.50" x2="123.19" y2="229.90" stroke="#555" stroke-width="0.6"/>
<text transform="translate(123.19,234.90) scale(0.74,1)" text-anchor="middle" class="t">10</text>
<line x1="135.68" y1="228.50" x2="135.68" y2="229.90" stroke="#555" stroke-width="0.6"/>
<text transform="translate(135.68,234.90) scale(0.74,1)" text-anchor="middle" class="t">15</text>
<line x1="148.18" y1="228.50" x2="148.18" y2="229.90" stroke="#555" stroke-width="0.6"/>
<text transform="translate(148.18,234.90) scale(0.74,1)" text-anchor="middle" class="t">20</text>
<path d="M173.01,200.38 L177.53,206.66 L182.55,214.19 L188.82,215.44 L193.84,204.15 L198.86,195.36 L203.88,186.57 L208.90,180.30 L212.67,176.53 L217.69,177.79 L222.71,177.79 L227.73,186.57 L232.24,187.83 L232.24,197.87 L227.73,197.87 L222.71,189.08 L217.69,190.34 L212.67,186.57 L208.90,189.08 L203.88,196.62 L198.86,206.66 L193.84,215.44 L188.82,222.97 L182.55,222.97 L177.53,215.44 L173.01,205.40 Z" fill="#f8f7dd" stroke="none"/>
<path d="M173.01,202.89 L176.27,210.42 L180.04,216.70 L183.80,220.46 L186.31,217.95 L190.08,220.46 L193.84,209.17 L196.35,214.19 L198.86,201.64 L202.63,196.62 L206.39,187.83 L210.16,185.32 L212.67,181.55 L216.43,185.32 L220.20,186.57 L223.96,182.81 L226.47,194.10 L228.98,190.34 L231.49,193.60" fill="none" stroke="#c8c54a" stroke-width="0.75" stroke-linejoin="round"/>
<path d="M173.01,202.89 L176.27,209.17 L180.04,215.44 L183.80,219.21 L187.57,219.71 L191.33,217.95 L195.10,210.42 L198.86,200.38 L202.63,190.34 L206.39,184.06 L210.16,179.04 L213.92,175.28 L217.69,172.77 L221.45,174.52 L225.22,179.04 L228.98,181.05 L231.49,185.32" fill="none" stroke="#5656f4" stroke-width="0.75" stroke-linejoin="round"/>
<line x1="170.50" y1="169.60" x2="234.40" y2="169.60" stroke="#e2e2e2" stroke-width="1"/>
<line x1="170.50" y1="169.60" x2="170.50" y2="228.50" stroke="#e2e2e2" stroke-width="1"/>
<line x1="234.40" y1="169.60" x2="234.40" y2="228.50" stroke="#6a6a6a" stroke-width="1"/>
<line x1="170.00" y1="228.50" x2="234.90" y2="228.50" stroke="#6a6a6a" stroke-width="1"/>
<line x1="169.10" y1="170.30" x2="170.50" y2="170.30" stroke="#555" stroke-width="0.6"/>
<text transform="translate(168.90,172.50) scale(0.74,1)" text-anchor="end" class="t">2.6</text>
<line x1="169.10" y1="178.98" x2="170.50" y2="178.98" stroke="#555" stroke-width="0.6"/>
<text transform="translate(168.90,181.18) scale(0.74,1)" text-anchor="end" class="t">2.4</text>
<line x1="169.10" y1="187.59" x2="170.50" y2="187.59" stroke="#555" stroke-width="0.6"/>
<text transform="translate(168.90,189.79) scale(0.74,1)" text-anchor="end" class="t">2.2</text>
<line x1="169.10" y1="196.26" x2="170.50" y2="196.26" stroke="#555" stroke-width="0.6"/>
<text transform="translate(168.90,198.46) scale(0.74,1)" text-anchor="end" class="t">2.0</text>
<line x1="169.10" y1="204.70" x2="170.50" y2="204.70" stroke="#555" stroke-width="0.6"/>
<text transform="translate(168.90,206.90) scale(0.74,1)" text-anchor="end" class="t">1.8</text>
<line x1="169.10" y1="213.55" x2="170.50" y2="213.55" stroke="#555" stroke-width="0.6"/>
<text transform="translate(168.90,215.75) scale(0.74,1)" text-anchor="end" class="t">1.6</text>
<line x1="169.10" y1="222.11" x2="170.50" y2="222.11" stroke="#555" stroke-width="0.6"/>
<text transform="translate(168.90,224.31) scale(0.74,1)" text-anchor="end" class="t">1.4</text>
<line x1="173.44" y1="228.50" x2="173.44" y2="229.90" stroke="#555" stroke-width="0.6"/>
<text transform="translate(173.44,234.90) scale(0.74,1)" text-anchor="middle" class="t">0</text>
<line x1="186.09" y1="228.50" x2="186.09" y2="229.90" stroke="#555" stroke-width="0.6"/>
<text transform="translate(186.09,234.90) scale(0.74,1)" text-anchor="middle" class="t">5</text>
<line x1="198.74" y1="228.50" x2="198.74" y2="229.90" stroke="#555" stroke-width="0.6"/>
<text transform="translate(198.74,234.90) scale(0.74,1)" text-anchor="middle" class="t">10</text>
<line x1="211.40" y1="228.50" x2="211.40" y2="229.90" stroke="#555" stroke-width="0.6"/>
<text transform="translate(211.40,234.90) scale(0.74,1)" text-anchor="middle" class="t">15</text>
<line x1="224.05" y1="228.50" x2="224.05" y2="229.90" stroke="#555" stroke-width="0.6"/>
<text transform="translate(224.05,234.90) scale(0.74,1)" text-anchor="middle" class="t">20</text>
<path d="M249.01,177.79 L253.53,180.30 L258.55,181.55 L263.57,181.05 L268.59,179.04 L273.61,175.28 L278.63,172.77 L283.65,172.01 L291.18,171.51 L298.71,172.01 L306.24,174.02 L306.24,220.46 L301.22,219.21 L293.69,217.95 L286.16,217.20 L278.63,218.71 L273.61,220.46 L268.59,222.22 L263.57,224.23 L258.55,224.73 L253.53,222.97 L249.01,220.46 Z" fill="#e1f6f4" stroke="none"/>
<path d="M249.01,199.88 L253.53,201.64 L258.55,203.39 L263.57,202.89 L268.59,200.38 L273.61,197.87 L278.63,195.86 L283.65,194.86 L288.67,194.86 L293.69,194.10 L298.71,195.86 L302.47,197.37 L306.24,198.62" fill="none" stroke="#45cfcf" stroke-width="0.75" stroke-linejoin="round"/>
<path d="M249.01,186.07 L253.53,190.34 L258.55,192.85 L262.31,193.60 L266.08,192.10 L269.84,187.83 L273.61,181.55 L278.63,176.53 L283.65,174.02 L288.67,172.77 L293.69,171.51 L298.71,172.77 L302.47,175.28 L306.24,177.79" fill="none" stroke="#5656f4" stroke-width="0.75" stroke-linejoin="round"/>
<line x1="246.30" y1="169.60" x2="309.50" y2="169.60" stroke="#e2e2e2" stroke-width="1"/>
<line x1="246.30" y1="169.60" x2="246.30" y2="228.50" stroke="#e2e2e2" stroke-width="1"/>
<line x1="309.50" y1="169.60" x2="309.50" y2="228.50" stroke="#a8a8a8" stroke-width="1"/>
<line x1="245.80" y1="228.50" x2="310.00" y2="228.50" stroke="#6a6a6a" stroke-width="1"/>
<line x1="244.90" y1="173.43" x2="246.30" y2="173.43" stroke="#555" stroke-width="0.6"/>
<text transform="translate(244.70,175.63) scale(0.74,1)" text-anchor="end" class="t">2.5</text>
<line x1="244.90" y1="182.87" x2="246.30" y2="182.87" stroke="#555" stroke-width="0.6"/>
<text transform="translate(244.70,185.07) scale(0.74,1)" text-anchor="end" class="t">2.0</text>
<line x1="244.90" y1="192.31" x2="246.30" y2="192.31" stroke="#555" stroke-width="0.6"/>
<text transform="translate(244.70,194.51) scale(0.74,1)" text-anchor="end" class="t">1.5</text>
<line x1="244.90" y1="201.75" x2="246.30" y2="201.75" stroke="#555" stroke-width="0.6"/>
<text transform="translate(244.70,203.95) scale(0.74,1)" text-anchor="end" class="t">1.0</text>
<line x1="244.90" y1="211.19" x2="246.30" y2="211.19" stroke="#555" stroke-width="0.6"/>
<text transform="translate(244.70,213.39) scale(0.74,1)" text-anchor="end" class="t">0.5</text>
<line x1="244.90" y1="220.63" x2="246.30" y2="220.63" stroke="#555" stroke-width="0.6"/>
<text transform="translate(244.70,222.83) scale(0.74,1)" text-anchor="end" class="t">0.0</text>
<line x1="249.21" y1="228.50" x2="249.21" y2="229.90" stroke="#555" stroke-width="0.6"/>
<text transform="translate(249.21,234.90) scale(0.74,1)" text-anchor="middle" class="t">0</text>
<line x1="261.72" y1="228.50" x2="261.72" y2="229.90" stroke="#555" stroke-width="0.6"/>
<text transform="translate(261.72,234.90) scale(0.74,1)" text-anchor="middle" class="t">5</text>
<line x1="274.23" y1="228.50" x2="274.23" y2="229.90" stroke="#555" stroke-width="0.6"/>
<text transform="translate(274.23,234.90) scale(0.74,1)" text-anchor="middle" class="t">10</text>
<line x1="286.75" y1="228.50" x2="286.75" y2="229.90" stroke="#555" stroke-width="0.6"/>
<text transform="translate(286.75,234.90) scale(0.74,1)" text-anchor="middle" class="t">15</text>
<line x1="299.26" y1="228.50" x2="299.26" y2="229.90" stroke="#555" stroke-width="0.6"/>
<text transform="translate(299.26,234.90) scale(0.74,1)" text-anchor="middle" class="t">20</text>
<path d="M324.01,200.38 L328.53,206.66 L333.55,214.19 L339.82,215.44 L344.84,204.15 L349.86,195.36 L354.88,186.57 L359.90,180.30 L363.67,176.53 L368.69,177.79 L373.71,177.79 L378.73,186.57 L383.24,187.83 L383.24,197.87 L378.73,197.87 L373.71,189.08 L368.69,190.34 L363.67,186.57 L359.90,189.08 L354.88,196.62 L349.86,206.66 L344.84,215.44 L339.82,222.97 L333.55,222.97 L328.53,215.44 L324.01,205.40 Z" fill="#e4f1e2" stroke="none"/>
<path d="M324.01,202.89 L327.27,210.42 L331.04,216.70 L334.80,220.46 L337.31,217.95 L341.08,220.46 L344.84,209.17 L347.35,214.19 L349.86,201.64 L353.63,196.62 L357.39,187.83 L361.16,185.32 L363.67,181.55 L367.43,185.32 L371.20,186.57 L374.96,182.81 L377.47,194.10 L379.98,190.34 L382.49,193.60" fill="none" stroke="#4a9e4a" stroke-width="0.75" stroke-linejoin="round"/>
<path d="M324.01,202.89 L327.27,209.17 L331.04,215.44 L334.80,219.21 L338.57,219.71 L342.33,217.95 L346.10,210.42 L349.86,200.38 L353.63,190.34 L357.39,184.06 L361.16,179.04 L364.92,175.28 L368.69,172.77 L372.45,174.52 L376.22,179.04 L379.98,181.05 L382.49,185.32" fill="none" stroke="#5656f4" stroke-width="0.75" stroke-linejoin="round"/>
<line x1="321.70" y1="169.60" x2="385.50" y2="169.60" stroke="#e2e2e2" stroke-width="1"/>
<line x1="321.70" y1="169.60" x2="321.70" y2="228.50" stroke="#e2e2e2" stroke-width="1"/>
<line x1="385.50" y1="169.60" x2="385.50" y2="228.50" stroke="#a8a8a8" stroke-width="1"/>
<line x1="321.20" y1="228.50" x2="386.00" y2="228.50" stroke="#6a6a6a" stroke-width="1"/>
<line x1="320.30" y1="170.30" x2="321.70" y2="170.30" stroke="#555" stroke-width="0.6"/>
<text transform="translate(320.10,172.50) scale(0.74,1)" text-anchor="end" class="t">2.6</text>
<line x1="320.30" y1="178.98" x2="321.70" y2="178.98" stroke="#555" stroke-width="0.6"/>
<text transform="translate(320.10,181.18) scale(0.74,1)" text-anchor="end" class="t">2.4</text>
<line x1="320.30" y1="187.59" x2="321.70" y2="187.59" stroke="#555" stroke-width="0.6"/>
<text transform="translate(320.10,189.79) scale(0.74,1)" text-anchor="end" class="t">2.2</text>
<line x1="320.30" y1="196.26" x2="321.70" y2="196.26" stroke="#555" stroke-width="0.6"/>
<text transform="translate(320.10,198.46) scale(0.74,1)" text-anchor="end" class="t">2.0</text>
<line x1="320.30" y1="204.70" x2="321.70" y2="204.70" stroke="#555" stroke-width="0.6"/>
<text transform="translate(320.10,206.90) scale(0.74,1)" text-anchor="end" class="t">1.8</text>
<line x1="320.30" y1="213.55" x2="321.70" y2="213.55" stroke="#555" stroke-width="0.6"/>
<text transform="translate(320.10,215.75) scale(0.74,1)" text-anchor="end" class="t">1.6</text>
<line x1="320.30" y1="222.11" x2="321.70" y2="222.11" stroke="#555" stroke-width="0.6"/>
<text transform="translate(320.10,224.31) scale(0.74,1)" text-anchor="end" class="t">1.4</text>
<line x1="324.63" y1="228.50" x2="324.63" y2="229.90" stroke="#555" stroke-width="0.6"/>
<text transform="translate(324.63,234.90) scale(0.74,1)" text-anchor="middle" class="t">0</text>
<line x1="337.27" y1="228.50" x2="337.27" y2="229.90" stroke="#555" stroke-width="0.6"/>
<text transform="translate(337.27,234.90) scale(0.74,1)" text-anchor="middle" class="t">5</text>
<line x1="349.90" y1="228.50" x2="349.90" y2="229.90" stroke="#555" stroke-width="0.6"/>
<text transform="translate(349.90,234.90) scale(0.74,1)" text-anchor="middle" class="t">10</text>
<line x1="362.53" y1="228.50" x2="362.53" y2="229.90" stroke="#555" stroke-width="0.6"/>
<text transform="translate(362.53,234.90) scale(0.74,1)" text-anchor="middle" class="t">15</text>
<line x1="375.16" y1="228.50" x2="375.16" y2="229.90" stroke="#555" stroke-width="0.6"/>
<text transform="translate(375.16,234.90) scale(0.74,1)" text-anchor="middle" class="t">20</text>
<path d="M420.42,45.12 L424.06,47.55 L428.90,51.19 L433.75,49.97 L438.60,45.12 L443.44,31.77 L447.08,26.92 L450.71,19.64 L455.56,23.28 L460.40,20.85 L465.25,22.07 L470.10,26.92 L474.94,32.99 L478.58,39.05 L478.58,54.83 L474.94,49.97 L470.10,43.91 L465.25,40.27 L460.40,41.48 L455.56,40.27 L450.71,36.63 L447.08,42.69 L443.44,52.40 L438.60,60.90 L433.75,69.39 L428.90,71.82 L424.06,66.96 L420.42,65.75 Z" fill="#ffe0e0" stroke="none"/>
<path d="M420.42,58.47 L423.33,53.62 L426.48,59.20 L429.63,59.68 L432.05,62.11 L434.96,56.77 L438.60,51.19 L442.23,42.69 L445.87,37.36 L449.50,32.99 L451.44,29.35 L454.35,31.77 L457.98,34.20 L461.62,31.77 L465.25,32.99 L468.88,35.90 L472.52,39.05 L476.15,41.48 L478.58,46.33" fill="none" stroke="#f04545" stroke-width="0.75" stroke-linejoin="round"/>
<path d="M420.42,51.19 L424.06,54.83 L427.69,57.26 L431.33,58.47 L434.96,56.77 L438.60,51.19 L442.23,43.91 L445.87,37.84 L449.50,31.77 L453.13,29.35 L457.98,29.35 L462.83,30.08 L467.67,31.05 L472.52,34.20 L476.15,40.27 L478.58,46.33" fill="none" stroke="#5656f4" stroke-width="0.75" stroke-linejoin="round"/>
<line x1="418.00" y1="16.40" x2="482.50" y2="16.40" stroke="#6a6a6a" stroke-width="1"/>
<line x1="418.00" y1="16.40" x2="418.00" y2="74.40" stroke="#e2e2e2" stroke-width="1"/>
<line x1="482.50" y1="16.40" x2="482.50" y2="74.40" stroke="#e2e2e2" stroke-width="1"/>
<line x1="417.50" y1="74.40" x2="483.00" y2="74.40" stroke="#6a6a6a" stroke-width="1"/>
<line x1="416.60" y1="16.30" x2="418.00" y2="16.30" stroke="#555" stroke-width="0.6"/>
<text transform="translate(416.40,18.50) scale(0.74,1)" text-anchor="end" class="t">1.0</text>
<line x1="416.60" y1="26.31" x2="418.00" y2="26.31" stroke="#555" stroke-width="0.6"/>
<text transform="translate(416.40,28.51) scale(0.74,1)" text-anchor="end" class="t">0.9</text>
<line x1="416.60" y1="35.75" x2="418.00" y2="35.75" stroke="#555" stroke-width="0.6"/>
<text transform="translate(416.40,37.95) scale(0.74,1)" text-anchor="end" class="t">0.8</text>
<line x1="416.60" y1="45.19" x2="418.00" y2="45.19" stroke="#555" stroke-width="0.6"/>
<text transform="translate(416.40,47.39) scale(0.74,1)" text-anchor="end" class="t">0.7</text>
<line x1="416.60" y1="54.62" x2="418.00" y2="54.62" stroke="#555" stroke-width="0.6"/>
<text transform="translate(416.40,56.82) scale(0.74,1)" text-anchor="end" class="t">0.6</text>
<line x1="416.60" y1="64.06" x2="418.00" y2="64.06" stroke="#555" stroke-width="0.6"/>
<text transform="translate(416.40,66.26) scale(0.74,1)" text-anchor="end" class="t">0.5</text>
<line x1="416.60" y1="72.93" x2="418.00" y2="72.93" stroke="#555" stroke-width="0.6"/>
<text transform="translate(416.40,75.13) scale(0.74,1)" text-anchor="end" class="t">0.4</text>
<line x1="420.97" y1="74.40" x2="420.97" y2="75.80" stroke="#555" stroke-width="0.6"/>
<text transform="translate(420.97,80.80) scale(0.74,1)" text-anchor="middle" class="t">0</text>
<line x1="433.74" y1="74.40" x2="433.74" y2="75.80" stroke="#555" stroke-width="0.6"/>
<text transform="translate(433.74,80.80) scale(0.74,1)" text-anchor="middle" class="t">5</text>
<line x1="446.51" y1="74.40" x2="446.51" y2="75.80" stroke="#555" stroke-width="0.6"/>
<text transform="translate(446.51,80.80) scale(0.74,1)" text-anchor="middle" class="t">10</text>
<line x1="459.28" y1="74.40" x2="459.28" y2="75.80" stroke="#555" stroke-width="0.6"/>
<text transform="translate(459.28,80.80) scale(0.74,1)" text-anchor="middle" class="t">15</text>
<line x1="472.05" y1="74.40" x2="472.05" y2="75.80" stroke="#555" stroke-width="0.6"/>
<text transform="translate(472.05,80.80) scale(0.74,1)" text-anchor="middle" class="t">20</text>
<path d="M495.91,42.69 L500.28,46.33 L505.13,49.97 L509.98,49.97 L514.83,42.69 L519.68,29.35 L523.32,23.28 L529.38,19.64 L535.44,22.07 L540.29,20.85 L545.15,25.71 L550.00,28.13 L554.85,37.84 L554.85,60.90 L550.00,46.33 L545.15,41.48 L540.29,40.27 L535.44,40.27 L529.38,37.84 L523.32,41.48 L519.68,47.55 L514.83,58.47 L509.98,68.18 L505.13,71.82 L500.28,68.18 L495.91,63.32 Z" fill="#f6e2f8" stroke="none"/>
<path d="M495.91,52.40 L499.06,58.47 L502.22,56.04 L505.13,60.90 L507.55,57.26 L511.19,54.83 L514.83,47.55 L518.47,39.05 L522.10,34.20 L525.74,31.77 L528.90,28.13 L531.81,34.20 L535.44,32.99 L539.08,32.99 L542.72,35.41 L545.15,31.05 L548.78,32.99 L552.42,40.27 L554.85,52.40" fill="none" stroke="#d450d8" stroke-width="0.75" stroke-linejoin="round"/>
<path d="M495.91,49.97 L499.06,52.89 L502.70,56.04 L506.34,57.74 L509.98,57.26 L513.62,52.40 L517.25,45.12 L520.89,37.36 L524.53,31.77 L528.17,28.13 L531.81,26.92 L536.66,28.13 L541.51,28.62 L545.15,31.05 L548.78,32.99 L552.42,39.05 L554.85,46.33" fill="none" stroke="#5656f4" stroke-width="0.75" stroke-linejoin="round"/>
<line x1="493.50" y1="16.40" x2="558.10" y2="16.40" stroke="#6a6a6a" stroke-width="1"/>
<line x1="493.50" y1="16.40" x2="493.50" y2="74.40" stroke="#a8a8a8" stroke-width="1"/>
<line x1="558.10" y1="16.40" x2="558.10" y2="74.40" stroke="#6a6a6a" stroke-width="1"/>
<line x1="493.00" y1="74.40" x2="558.60" y2="74.40" stroke="#6a6a6a" stroke-width="1"/>
<line x1="492.10" y1="24.08" x2="493.50" y2="24.08" stroke="#555" stroke-width="0.6"/>
<text transform="translate(491.90,26.28) scale(0.74,1)" text-anchor="end" class="t">0.9</text>
<line x1="492.10" y1="33.46" x2="493.50" y2="33.46" stroke="#555" stroke-width="0.6"/>
<text transform="translate(491.90,35.66) scale(0.74,1)" text-anchor="end" class="t">0.8</text>
<line x1="492.10" y1="43.76" x2="493.50" y2="43.76" stroke="#555" stroke-width="0.6"/>
<text transform="translate(491.90,45.96) scale(0.74,1)" text-anchor="end" class="t">0.7</text>
<line x1="492.10" y1="54.05" x2="493.50" y2="54.05" stroke="#555" stroke-width="0.6"/>
<text transform="translate(491.90,56.25) scale(0.74,1)" text-anchor="end" class="t">0.6</text>
<line x1="492.10" y1="64.06" x2="493.50" y2="64.06" stroke="#555" stroke-width="0.6"/>
<text transform="translate(491.90,66.26) scale(0.74,1)" text-anchor="end" class="t">0.5</text>
<line x1="492.10" y1="73.50" x2="493.50" y2="73.50" stroke="#555" stroke-width="0.6"/>
<text transform="translate(491.90,75.70) scale(0.74,1)" text-anchor="end" class="t">0.4</text>
<line x1="496.47" y1="74.40" x2="496.47" y2="75.80" stroke="#555" stroke-width="0.6"/>
<text transform="translate(496.47,80.80) scale(0.74,1)" text-anchor="middle" class="t">0</text>
<line x1="509.26" y1="74.40" x2="509.26" y2="75.80" stroke="#555" stroke-width="0.6"/>
<text transform="translate(509.26,80.80) scale(0.74,1)" text-anchor="middle" class="t">5</text>
<line x1="522.05" y1="74.40" x2="522.05" y2="75.80" stroke="#555" stroke-width="0.6"/>
<text transform="translate(522.05,80.80) scale(0.74,1)" text-anchor="middle" class="t">10</text>
<line x1="534.84" y1="74.40" x2="534.84" y2="75.80" stroke="#555" stroke-width="0.6"/>
<text transform="translate(534.84,80.80) scale(0.74,1)" text-anchor="middle" class="t">15</text>
<line x1="547.63" y1="74.40" x2="547.63" y2="75.80" stroke="#555" stroke-width="0.6"/>
<text transform="translate(547.63,80.80) scale(0.74,1)" text-anchor="middle" class="t">20</text>
<path d="M571.91,42.69 L575.07,41.48 L579.92,46.33 L584.77,47.55 L589.62,40.27 L594.48,28.13 L598.12,19.64 L604.18,22.07 L609.04,19.64 L613.89,22.07 L618.74,20.85 L623.60,25.71 L627.24,29.35 L630.88,39.05 L630.88,64.54 L627.24,47.55 L623.60,41.48 L618.74,41.48 L613.89,42.69 L609.04,39.05 L604.18,40.27 L598.12,39.05 L594.48,48.76 L589.62,59.68 L584.77,69.39 L579.92,70.60 L575.07,66.96 L571.91,63.32 Z" fill="#f8f7dd" stroke="none"/>
<path d="M571.91,49.97 L575.07,56.04 L577.49,52.40 L579.92,62.11 L582.35,56.04 L584.77,58.47 L588.41,46.33 L592.05,41.48 L595.69,36.63 L599.33,30.56 L601.76,34.20 L605.40,29.35 L609.04,28.13 L612.68,32.99 L615.10,29.35 L618.74,34.20 L621.17,30.56 L624.81,31.77 L628.45,40.27 L630.88,52.40" fill="none" stroke="#c8c54a" stroke-width="0.75" stroke-linejoin="round"/>
<path d="M571.91,47.06 L575.07,51.19 L578.71,53.62 L582.35,54.34 L585.99,53.62 L589.62,49.97 L593.26,42.69 L596.90,35.41 L600.54,30.56 L604.18,27.65 L607.82,26.92 L612.68,26.92 L617.53,28.62 L621.17,30.08 L624.81,31.77 L628.45,36.63 L630.88,43.91" fill="none" stroke="#5656f4" stroke-width="0.75" stroke-linejoin="round"/>
<line x1="569.40" y1="16.40" x2="634.00" y2="16.40" stroke="#6a6a6a" stroke-width="1"/>
<line x1="569.40" y1="16.40" x2="569.40" y2="74.40" stroke="#a8a8a8" stroke-width="1"/>
<line x1="634.00" y1="16.40" x2="634.00" y2="74.40" stroke="#6a6a6a" stroke-width="1"/>
<line x1="568.90" y1="74.40" x2="634.50" y2="74.40" stroke="#6a6a6a" stroke-width="1"/>
<line x1="568.00" y1="24.08" x2="569.40" y2="24.08" stroke="#555" stroke-width="0.6"/>
<text transform="translate(567.80,26.28) scale(0.74,1)" text-anchor="end" class="t">0.9</text>
<line x1="568.00" y1="33.46" x2="569.40" y2="33.46" stroke="#555" stroke-width="0.6"/>
<text transform="translate(567.80,35.66) scale(0.74,1)" text-anchor="end" class="t">0.8</text>
<line x1="568.00" y1="42.33" x2="569.40" y2="42.33" stroke="#555" stroke-width="0.6"/>
<text transform="translate(567.80,44.53) scale(0.74,1)" text-anchor="end" class="t">0.7</text>
<line x1="568.00" y1="51.76" x2="569.40" y2="51.76" stroke="#555" stroke-width="0.6"/>
<text transform="translate(567.80,53.96) scale(0.74,1)" text-anchor="end" class="t">0.6</text>
<line x1="568.00" y1="60.92" x2="569.40" y2="60.92" stroke="#555" stroke-width="0.6"/>
<text transform="translate(567.80,63.12) scale(0.74,1)" text-anchor="end" class="t">0.5</text>
<line x1="568.00" y1="69.78" x2="569.40" y2="69.78" stroke="#555" stroke-width="0.6"/>
<text transform="translate(567.80,71.98) scale(0.74,1)" text-anchor="end" class="t">0.4</text>
<line x1="572.37" y1="74.40" x2="572.37" y2="75.80" stroke="#555" stroke-width="0.6"/>
<text transform="translate(572.37,80.80) scale(0.74,1)" text-anchor="middle" class="t">0</text>
<line x1="585.16" y1="74.40" x2="585.16" y2="75.80" stroke="#555" stroke-width="0.6"/>
<text transform="translate(585.16,80.80) scale(0.74,1)" text-anchor="middle" class="t">5</text>
<line x1="597.95" y1="74.40" x2="597.95" y2="75.80" stroke="#555" stroke-width="0.6"/>
<text transform="translate(597.95,80.80) scale(0.74,1)" text-anchor="middle" class="t">10</text>
<line x1="610.74" y1="74.40" x2="610.74" y2="75.80" stroke="#555" stroke-width="0.6"/>
<text transform="translate(610.74,80.80) scale(0.74,1)" text-anchor="middle" class="t">15</text>
<line x1="623.53" y1="74.40" x2="623.53" y2="75.80" stroke="#555" stroke-width="0.6"/>
<text transform="translate(623.53,80.80) scale(0.74,1)" text-anchor="middle" class="t">20</text>
<path d="M647.91,27.92 L652.27,28.65 L657.12,29.62 L661.96,28.65 L666.81,25.49 L671.65,21.85 L676.50,19.91 L683.77,19.43 L691.04,19.43 L698.31,20.64 L705.58,23.07 L705.58,66.75 L698.31,63.11 L691.04,61.17 L683.77,60.68 L676.50,61.90 L671.65,64.32 L666.81,67.96 L661.96,70.87 L657.12,71.60 L652.27,69.18 L647.91,66.75 Z" fill="#e1f6f4" stroke="none"/>
<path d="M647.91,48.55 L652.27,49.76 L657.12,50.97 L661.96,50.49 L665.60,48.55 L669.23,45.64 L674.08,42.00 L678.92,40.54 L683.77,40.05 L688.62,40.30 L693.46,40.78 L698.31,41.75 L701.94,43.21 L705.58,46.12" fill="none" stroke="#45cfcf" stroke-width="0.75" stroke-linejoin="round"/>
<path d="M647.91,44.18 L652.27,46.12 L657.12,47.33 L661.96,47.33 L665.60,45.64 L669.23,42.48 L674.08,38.36 L678.92,35.93 L683.77,34.72 L688.62,35.20 L693.46,35.93 L698.31,36.90 L701.94,38.36 L705.58,42.00" fill="none" stroke="#5656f4" stroke-width="0.75" stroke-linejoin="round"/>
<line x1="645.30" y1="16.40" x2="709.60" y2="16.40" stroke="#6a6a6a" stroke-width="1"/>
<line x1="645.30" y1="16.40" x2="645.30" y2="74.40" stroke="#a8a8a8" stroke-width="1"/>
<line x1="709.60" y1="16.40" x2="709.60" y2="74.40" stroke="#a8a8a8" stroke-width="1"/>
<line x1="644.80" y1="74.40" x2="710.10" y2="74.40" stroke="#6a6a6a" stroke-width="1"/>
<line x1="643.90" y1="21.02" x2="645.30" y2="21.02" stroke="#555" stroke-width="0.6"/>
<text transform="translate(643.70,23.22) scale(0.74,1)" text-anchor="end" class="t">1.25</text>
<line x1="643.90" y1="30.20" x2="645.30" y2="30.20" stroke="#555" stroke-width="0.6"/>
<text transform="translate(643.70,32.40) scale(0.74,1)" text-anchor="end" class="t">1.00</text>
<line x1="643.90" y1="40.53" x2="645.30" y2="40.53" stroke="#555" stroke-width="0.6"/>
<text transform="translate(643.70,42.73) scale(0.74,1)" text-anchor="end" class="t">0.75</text>
<line x1="643.90" y1="50.29" x2="645.30" y2="50.29" stroke="#555" stroke-width="0.6"/>
<text transform="translate(643.70,52.49) scale(0.74,1)" text-anchor="end" class="t">0.50</text>
<line x1="643.90" y1="59.48" x2="645.30" y2="59.48" stroke="#555" stroke-width="0.6"/>
<text transform="translate(643.70,61.68) scale(0.74,1)" text-anchor="end" class="t">0.25</text>
<line x1="643.90" y1="68.66" x2="645.30" y2="68.66" stroke="#555" stroke-width="0.6"/>
<text transform="translate(643.70,70.86) scale(0.74,1)" text-anchor="end" class="t">0.00</text>
<line x1="648.26" y1="74.40" x2="648.26" y2="75.80" stroke="#555" stroke-width="0.6"/>
<text transform="translate(648.26,80.80) scale(0.74,1)" text-anchor="middle" class="t">0</text>
<line x1="660.99" y1="74.40" x2="660.99" y2="75.80" stroke="#555" stroke-width="0.6"/>
<text transform="translate(660.99,80.80) scale(0.74,1)" text-anchor="middle" class="t">5</text>
<line x1="673.72" y1="74.40" x2="673.72" y2="75.80" stroke="#555" stroke-width="0.6"/>
<text transform="translate(673.72,80.80) scale(0.74,1)" text-anchor="middle" class="t">10</text>
<line x1="686.45" y1="74.40" x2="686.45" y2="75.80" stroke="#555" stroke-width="0.6"/>
<text transform="translate(686.45,80.80) scale(0.74,1)" text-anchor="middle" class="t">15</text>
<line x1="699.18" y1="74.40" x2="699.18" y2="75.80" stroke="#555" stroke-width="0.6"/>
<text transform="translate(699.18,80.80) scale(0.74,1)" text-anchor="middle" class="t">20</text>
<path d="M724.42,40.27 L728.06,45.12 L732.90,46.33 L737.75,48.76 L742.60,42.69 L747.44,29.35 L752.29,24.49 L758.35,19.64 L761.98,22.07 L766.83,20.85 L771.67,24.49 L776.52,26.92 L782.58,37.84 L782.58,56.04 L776.52,43.91 L771.67,39.05 L766.83,40.27 L761.98,39.05 L758.35,36.63 L752.29,40.27 L747.44,49.97 L742.60,59.68 L737.75,68.18 L732.90,70.60 L728.06,66.96 L724.42,58.47 Z" fill="#e4f1e2" stroke="none"/>
<path d="M724.42,49.97 L726.85,57.26 L730.48,60.90 L732.90,56.04 L735.33,59.68 L738.96,59.68 L742.60,49.97 L746.23,42.69 L749.87,36.63 L753.50,32.99 L757.13,30.56 L759.56,28.62 L763.19,32.99 L766.83,30.56 L770.46,31.77 L774.10,32.99 L777.73,36.63 L782.58,47.55" fill="none" stroke="#4a9e4a" stroke-width="0.75" stroke-linejoin="round"/>
<path d="M724.42,49.97 L728.06,53.62 L731.69,56.04 L735.33,57.26 L738.96,57.74 L742.60,52.40 L746.23,43.91 L749.87,37.84 L753.50,32.99 L757.13,30.08 L760.77,28.62 L765.62,29.35 L770.46,31.05 L774.10,32.50 L777.73,36.63 L782.58,46.33" fill="none" stroke="#5656f4" stroke-width="0.75" stroke-linejoin="round"/>
<line x1="721.40" y1="16.40" x2="785.50" y2="16.40" stroke="#6a6a6a" stroke-width="1"/>
<line x1="721.40" y1="16.40" x2="721.40" y2="74.40" stroke="#a8a8a8" stroke-width="1"/>
<line x1="785.50" y1="16.40" x2="785.50" y2="74.40" stroke="#a8a8a8" stroke-width="1"/>
<line x1="720.90" y1="74.40" x2="786.00" y2="74.40" stroke="#6a6a6a" stroke-width="1"/>
<line x1="720.00" y1="25.69" x2="721.40" y2="25.69" stroke="#555" stroke-width="0.6"/>
<text transform="translate(719.80,27.89) scale(0.74,1)" text-anchor="end" class="t">0.9</text>
<line x1="720.00" y1="35.09" x2="721.40" y2="35.09" stroke="#555" stroke-width="0.6"/>
<text transform="translate(719.80,37.30) scale(0.74,1)" text-anchor="end" class="t">0.8</text>
<line x1="720.00" y1="45.07" x2="721.40" y2="45.07" stroke="#555" stroke-width="0.6"/>
<text transform="translate(719.80,47.27) scale(0.74,1)" text-anchor="end" class="t">0.7</text>
<line x1="720.00" y1="55.33" x2="721.40" y2="55.33" stroke="#555" stroke-width="0.6"/>
<text transform="translate(719.80,57.53) scale(0.74,1)" text-anchor="end" class="t">0.6</text>
<line x1="720.00" y1="65.02" x2="721.40" y2="65.02" stroke="#555" stroke-width="0.6"/>
<text transform="translate(719.80,67.22) scale(0.74,1)" text-anchor="end" class="t">0.5</text>
<line x1="720.00" y1="73.00" x2="721.40" y2="73.00" stroke="#555" stroke-width="0.6"/>
<text transform="translate(719.80,75.20) scale(0.74,1)" text-anchor="end" class="t">0.4</text>
<line x1="724.35" y1="74.40" x2="724.35" y2="75.80" stroke="#555" stroke-width="0.6"/>
<text transform="translate(724.35,80.80) scale(0.74,1)" text-anchor="middle" class="t">0</text>
<line x1="737.04" y1="74.40" x2="737.04" y2="75.80" stroke="#555" stroke-width="0.6"/>
<text transform="translate(737.04,80.80) scale(0.74,1)" text-anchor="middle" class="t">5</text>
<line x1="749.73" y1="74.40" x2="749.73" y2="75.80" stroke="#555" stroke-width="0.6"/>
<text transform="translate(749.73,80.80) scale(0.74,1)" text-anchor="middle" class="t">10</text>
<line x1="762.42" y1="74.40" x2="762.42" y2="75.80" stroke="#555" stroke-width="0.6"/>
<text transform="translate(762.42,80.80) scale(0.74,1)" text-anchor="middle" class="t">15</text>
<line x1="775.12" y1="74.40" x2="775.12" y2="75.80" stroke="#555" stroke-width="0.6"/>
<text transform="translate(775.12,80.80) scale(0.74,1)" text-anchor="middle" class="t">20</text>
<path d="M422.43,123.12 L424.37,115.84 L427.28,118.27 L432.13,121.91 L436.98,115.84 L440.62,108.56 L444.25,97.64 L449.10,101.28 L453.96,103.71 L458.81,107.35 L463.66,102.49 L467.29,97.64 L472.15,102.49 L477.00,106.13 L481.85,115.84 L481.85,137.68 L477.00,127.97 L472.15,121.91 L467.29,115.84 L463.66,120.69 L458.81,125.55 L453.96,125.55 L449.10,120.69 L444.25,126.76 L440.62,130.40 L436.98,134.04 L432.13,144.96 L427.28,146.18 L424.37,142.54 L422.43,149.82 Z" fill="#ffe0e0" stroke="none"/>
<path d="M422.43,138.90 L423.64,127.97 L425.34,123.12 L427.28,134.04 L430.91,135.26 L434.55,132.83 L438.19,121.91 L441.83,120.69 L445.47,107.35 L447.89,113.41 L451.53,110.99 L455.17,115.84 L458.81,117.05 L462.44,114.63 L466.08,107.35 L469.72,110.99 L473.36,113.41 L477.00,118.27 L481.85,125.55" fill="none" stroke="#f04545" stroke-width="0.75" stroke-linejoin="round"/>
<path d="M422.91,125.06 L426.06,126.76 L429.70,127.97 L433.34,126.76 L436.98,123.61 L440.62,120.69 L444.25,113.41 L447.89,112.20 L451.53,112.93 L455.17,114.63 L458.81,117.05 L462.44,116.33 L466.08,108.56 L469.72,109.77 L473.36,113.41 L477.00,117.05 L481.85,125.06" fill="none" stroke="#5656f4" stroke-width="0.75" stroke-linejoin="round"/>
<line x1="420.00" y1="94.40" x2="483.80" y2="94.40" stroke="#6a6a6a" stroke-width="1"/>
<line x1="420.00" y1="94.40" x2="420.00" y2="152.40" stroke="#e2e2e2" stroke-width="1"/>
<line x1="483.80" y1="94.40" x2="483.80" y2="152.40" stroke="#a8a8a8" stroke-width="1"/>
<line x1="419.50" y1="152.40" x2="484.30" y2="152.40" stroke="#6a6a6a" stroke-width="1"/>
<line x1="418.60" y1="97.57" x2="420.00" y2="97.57" stroke="#555" stroke-width="0.6"/>
<text transform="translate(418.40,99.77) scale(0.74,1)" text-anchor="end" class="t">0.9</text>
<line x1="418.60" y1="107.65" x2="420.00" y2="107.65" stroke="#555" stroke-width="0.6"/>
<text transform="translate(418.40,109.85) scale(0.74,1)" text-anchor="end" class="t">0.8</text>
<line x1="418.60" y1="116.86" x2="420.00" y2="116.86" stroke="#555" stroke-width="0.6"/>
<text transform="translate(418.40,119.06) scale(0.74,1)" text-anchor="end" class="t">0.7</text>
<line x1="418.60" y1="126.66" x2="420.00" y2="126.66" stroke="#555" stroke-width="0.6"/>
<text transform="translate(418.40,128.86) scale(0.74,1)" text-anchor="end" class="t">0.6</text>
<line x1="418.60" y1="137.31" x2="420.00" y2="137.31" stroke="#555" stroke-width="0.6"/>
<text transform="translate(418.40,139.51) scale(0.74,1)" text-anchor="end" class="t">0.5</text>
<line x1="418.60" y1="147.68" x2="420.00" y2="147.68" stroke="#555" stroke-width="0.6"/>
<text transform="translate(418.40,149.88) scale(0.74,1)" text-anchor="end" class="t">0.4</text>
<line x1="422.93" y1="152.40" x2="422.93" y2="153.80" stroke="#555" stroke-width="0.6"/>
<text transform="translate(422.93,158.80) scale(0.74,1)" text-anchor="middle" class="t">0</text>
<line x1="435.57" y1="152.40" x2="435.57" y2="153.80" stroke="#555" stroke-width="0.6"/>
<text transform="translate(435.57,158.80) scale(0.74,1)" text-anchor="middle" class="t">5</text>
<line x1="448.20" y1="152.40" x2="448.20" y2="153.80" stroke="#555" stroke-width="0.6"/>
<text transform="translate(448.20,158.80) scale(0.74,1)" text-anchor="middle" class="t">10</text>
<line x1="460.83" y1="152.40" x2="460.83" y2="153.80" stroke="#555" stroke-width="0.6"/>
<text transform="translate(460.83,158.80) scale(0.74,1)" text-anchor="middle" class="t">15</text>
<line x1="473.46" y1="152.40" x2="473.46" y2="153.80" stroke="#555" stroke-width="0.6"/>
<text transform="translate(473.46,158.80) scale(0.74,1)" text-anchor="middle" class="t">20</text>
<path d="M498.91,120.69 L503.28,125.55 L508.13,123.12 L512.98,117.05 L517.83,108.56 L521.47,103.71 L527.53,110.99 L532.38,112.20 L537.23,110.99 L540.87,103.71 L544.51,97.64 L546.93,104.92 L550.57,100.07 L554.21,113.41 L557.85,121.91 L557.85,142.54 L554.21,136.47 L550.57,126.76 L546.93,123.12 L544.51,120.69 L540.87,127.97 L537.23,130.40 L532.38,132.83 L527.53,127.97 L521.47,125.55 L517.83,130.40 L512.98,140.11 L508.13,144.96 L503.28,149.82 L498.91,146.18 Z" fill="#f6e2f8" stroke="none"/>
<path d="M498.91,131.62 L500.85,137.68 L504.49,138.90 L508.13,135.26 L511.04,134.04 L514.19,125.55 L517.83,120.69 L521.47,115.84 L525.10,118.27 L528.74,119.48 L532.38,119.48 L535.29,123.12 L538.44,118.27 L542.08,113.41 L544.51,108.56 L546.93,117.05 L549.36,110.99 L553.00,120.69 L557.85,130.40" fill="none" stroke="#d450d8" stroke-width="0.75" stroke-linejoin="round"/>
<path d="M498.91,129.92 L502.06,131.62 L505.70,132.83 L509.34,131.62 L512.98,126.76 L516.62,120.69 L521.47,115.36 L526.32,117.05 L531.17,119.48 L536.02,120.21 L539.66,117.05 L543.29,110.99 L546.93,115.36 L550.57,120.69 L554.21,125.55 L557.85,131.62" fill="none" stroke="#5656f4" stroke-width="0.75" stroke-linejoin="round"/>
<line x1="496.00" y1="94.40" x2="560.20" y2="94.40" stroke="#6a6a6a" stroke-width="1"/>
<line x1="496.00" y1="94.40" x2="496.00" y2="152.40" stroke="#e2e2e2" stroke-width="1"/>
<line x1="560.20" y1="94.40" x2="560.20" y2="152.40" stroke="#a8a8a8" stroke-width="1"/>
<line x1="495.50" y1="152.40" x2="560.70" y2="152.40" stroke="#6a6a6a" stroke-width="1"/>
<line x1="494.60" y1="99.01" x2="496.00" y2="99.01" stroke="#555" stroke-width="0.6"/>
<text transform="translate(494.40,101.21) scale(0.74,1)" text-anchor="end" class="t">0.9</text>
<line x1="494.60" y1="109.95" x2="496.00" y2="109.95" stroke="#555" stroke-width="0.6"/>
<text transform="translate(494.40,112.15) scale(0.74,1)" text-anchor="end" class="t">0.8</text>
<line x1="494.60" y1="120.90" x2="496.00" y2="120.90" stroke="#555" stroke-width="0.6"/>
<text transform="translate(494.40,123.10) scale(0.74,1)" text-anchor="end" class="t">0.7</text>
<line x1="494.60" y1="132.13" x2="496.00" y2="132.13" stroke="#555" stroke-width="0.6"/>
<text transform="translate(494.40,134.33) scale(0.74,1)" text-anchor="end" class="t">0.6</text>
<line x1="494.60" y1="143.07" x2="496.00" y2="143.07" stroke="#555" stroke-width="0.6"/>
<text transform="translate(494.40,145.27) scale(0.74,1)" text-anchor="end" class="t">0.5</text>
<line x1="498.95" y1="152.40" x2="498.95" y2="153.80" stroke="#555" stroke-width="0.6"/>
<text transform="translate(498.95,158.80) scale(0.74,1)" text-anchor="middle" class="t">0</text>
<line x1="511.66" y1="152.40" x2="511.66" y2="153.80" stroke="#555" stroke-width="0.6"/>
<text transform="translate(511.66,158.80) scale(0.74,1)" text-anchor="middle" class="t">5</text>
<line x1="524.38" y1="152.40" x2="524.38" y2="153.80" stroke="#555" stroke-width="0.6"/>
<text transform="translate(524.38,158.80) scale(0.74,1)" text-anchor="middle" class="t">10</text>
<line x1="537.09" y1="152.40" x2="537.09" y2="153.80" stroke="#555" stroke-width="0.6"/>
<text transform="translate(537.09,158.80) scale(0.74,1)" text-anchor="middle" class="t">15</text>
<line x1="549.80" y1="152.40" x2="549.80" y2="153.80" stroke="#555" stroke-width="0.6"/>
<text transform="translate(549.80,158.80) scale(0.74,1)" text-anchor="middle" class="t">20</text>
<path d="M574.42,120.69 L578.06,121.91 L582.91,125.55 L587.76,121.91 L591.39,108.56 L596.24,98.85 L599.88,97.64 L603.52,102.49 L607.15,100.07 L610.79,103.71 L614.42,97.64 L619.27,98.85 L624.12,97.64 L628.97,103.71 L632.61,115.84 L632.61,137.68 L628.97,130.40 L624.12,120.69 L619.27,120.69 L614.42,120.69 L610.79,130.40 L607.15,125.55 L603.52,127.97 L599.88,120.69 L596.24,121.91 L592.61,131.62 L587.76,142.54 L582.91,149.82 L578.06,144.96 L574.42,141.32 Z" fill="#f8f7dd" stroke="none"/>
<path d="M574.42,132.83 L576.85,130.40 L579.27,131.62 L582.18,138.90 L585.33,130.40 L588.97,121.91 L592.61,115.84 L596.24,110.50 L599.88,108.08 L602.30,118.27 L604.73,112.20 L608.36,110.99 L612.00,117.05 L615.64,108.56 L619.27,109.77 L622.91,108.56 L626.55,110.99 L630.18,118.27 L632.61,125.55" fill="none" stroke="#c8c54a" stroke-width="0.75" stroke-linejoin="round"/>
<path d="M574.42,123.61 L578.06,125.55 L581.70,126.76 L585.33,125.55 L588.97,121.91 L592.61,117.05 L596.24,112.20 L599.88,110.50 L603.52,111.47 L607.15,113.41 L610.79,114.63 L614.42,110.99 L618.06,104.92 L621.70,107.35 L625.33,112.20 L628.97,118.27 L632.61,124.33" fill="none" stroke="#5656f4" stroke-width="0.75" stroke-linejoin="round"/>
<line x1="571.50" y1="94.40" x2="636.20" y2="94.40" stroke="#6a6a6a" stroke-width="1"/>
<line x1="571.50" y1="94.40" x2="571.50" y2="152.40" stroke="#e2e2e2" stroke-width="1"/>
<line x1="636.20" y1="94.40" x2="636.20" y2="152.40" stroke="#a8a8a8" stroke-width="1"/>
<line x1="571.00" y1="152.40" x2="636.70" y2="152.40" stroke="#6a6a6a" stroke-width="1"/>
<line x1="570.10" y1="104.57" x2="571.50" y2="104.57" stroke="#555" stroke-width="0.6"/>
<text transform="translate(569.90,106.77) scale(0.74,1)" text-anchor="end" class="t">0.8</text>
<line x1="570.10" y1="115.61" x2="571.50" y2="115.61" stroke="#555" stroke-width="0.6"/>
<text transform="translate(569.90,117.81) scale(0.74,1)" text-anchor="end" class="t">0.7</text>
<line x1="570.10" y1="126.06" x2="571.50" y2="126.06" stroke="#555" stroke-width="0.6"/>
<text transform="translate(569.90,128.26) scale(0.74,1)" text-anchor="end" class="t">0.6</text>
<line x1="570.10" y1="137.10" x2="571.50" y2="137.10" stroke="#555" stroke-width="0.6"/>
<text transform="translate(569.90,139.30) scale(0.74,1)" text-anchor="end" class="t">0.5</text>
<line x1="570.10" y1="148.14" x2="571.50" y2="148.14" stroke="#555" stroke-width="0.6"/>
<text transform="translate(569.90,150.34) scale(0.74,1)" text-anchor="end" class="t">0.4</text>
<line x1="574.48" y1="152.40" x2="574.48" y2="153.80" stroke="#555" stroke-width="0.6"/>
<text transform="translate(574.48,158.80) scale(0.74,1)" text-anchor="middle" class="t">0</text>
<line x1="587.29" y1="152.40" x2="587.29" y2="153.80" stroke="#555" stroke-width="0.6"/>
<text transform="translate(587.29,158.80) scale(0.74,1)" text-anchor="middle" class="t">5</text>
<line x1="600.10" y1="152.40" x2="600.10" y2="153.80" stroke="#555" stroke-width="0.6"/>
<text transform="translate(600.10,158.80) scale(0.74,1)" text-anchor="middle" class="t">10</text>
<line x1="612.91" y1="152.40" x2="612.91" y2="153.80" stroke="#555" stroke-width="0.6"/>
<text transform="translate(612.91,158.80) scale(0.74,1)" text-anchor="middle" class="t">15</text>
<line x1="625.72" y1="152.40" x2="625.72" y2="153.80" stroke="#555" stroke-width="0.6"/>
<text transform="translate(625.72,158.80) scale(0.74,1)" text-anchor="middle" class="t">20</text>
<path d="M649.91,101.28 L654.28,103.71 L659.13,104.92 L663.99,102.49 L671.26,100.07 L678.54,97.64 L683.40,98.85 L688.25,100.07 L693.10,97.64 L697.96,96.43 L705.24,97.64 L708.88,100.07 L708.88,146.18 L700.38,143.75 L693.10,142.54 L688.25,146.18 L680.97,144.96 L673.69,142.54 L666.41,146.18 L659.13,148.60 L654.28,146.18 L649.91,143.75 Z" fill="#e1f6f4" stroke="none"/>
<path d="M649.91,125.55 L654.28,126.76 L659.13,127.49 L663.99,126.03 L668.84,123.61 L673.69,121.42 L678.54,121.42 L683.40,122.64 L688.25,123.12 L691.89,121.18 L695.53,119.48 L700.38,120.21 L705.24,122.64 L708.88,124.33" fill="none" stroke="#45cfcf" stroke-width="0.75" stroke-linejoin="round"/>
<path d="M649.91,120.21 L654.28,121.18 L659.13,121.91 L663.99,120.69 L668.84,118.27 L673.69,115.84 L678.54,115.84 L683.40,117.54 L688.25,117.78 L691.89,115.84 L694.32,113.41 L699.17,114.63 L704.02,117.05 L708.88,120.21" fill="none" stroke="#5656f4" stroke-width="0.75" stroke-linejoin="round"/>
<line x1="647.30" y1="94.40" x2="712.40" y2="94.40" stroke="#6a6a6a" stroke-width="1"/>
<line x1="647.30" y1="94.40" x2="647.30" y2="152.40" stroke="#e2e2e2" stroke-width="1"/>
<line x1="712.40" y1="94.40" x2="712.40" y2="152.40" stroke="#a8a8a8" stroke-width="1"/>
<line x1="646.80" y1="152.40" x2="712.90" y2="152.40" stroke="#6a6a6a" stroke-width="1"/>
<line x1="645.90" y1="95.53" x2="647.30" y2="95.53" stroke="#555" stroke-width="0.6"/>
<text transform="translate(645.70,97.73) scale(0.74,1)" text-anchor="end" class="t">1.25</text>
<line x1="645.90" y1="105.36" x2="647.30" y2="105.36" stroke="#555" stroke-width="0.6"/>
<text transform="translate(645.70,107.56) scale(0.74,1)" text-anchor="end" class="t">1.00</text>
<line x1="645.90" y1="115.47" x2="647.30" y2="115.47" stroke="#555" stroke-width="0.6"/>
<text transform="translate(645.70,117.67) scale(0.74,1)" text-anchor="end" class="t">0.75</text>
<line x1="645.90" y1="125.88" x2="647.30" y2="125.88" stroke="#555" stroke-width="0.6"/>
<text transform="translate(645.70,128.08) scale(0.74,1)" text-anchor="end" class="t">0.50</text>
<line x1="645.90" y1="135.99" x2="647.30" y2="135.99" stroke="#555" stroke-width="0.6"/>
<text transform="translate(645.70,138.19) scale(0.74,1)" text-anchor="end" class="t">0.25</text>
<line x1="645.90" y1="146.11" x2="647.30" y2="146.11" stroke="#555" stroke-width="0.6"/>
<text transform="translate(645.70,148.31) scale(0.74,1)" text-anchor="end" class="t">0.00</text>
<line x1="650.29" y1="152.40" x2="650.29" y2="153.80" stroke="#555" stroke-width="0.6"/>
<text transform="translate(650.29,158.80) scale(0.74,1)" text-anchor="middle" class="t">0</text>
<line x1="663.18" y1="152.40" x2="663.18" y2="153.80" stroke="#555" stroke-width="0.6"/>
<text transform="translate(663.18,158.80) scale(0.74,1)" text-anchor="middle" class="t">5</text>
<line x1="676.07" y1="152.40" x2="676.07" y2="153.80" stroke="#555" stroke-width="0.6"/>
<text transform="translate(676.07,158.80) scale(0.74,1)" text-anchor="middle" class="t">10</text>
<line x1="688.96" y1="152.40" x2="688.96" y2="153.80" stroke="#555" stroke-width="0.6"/>
<text transform="translate(688.96,158.80) scale(0.74,1)" text-anchor="middle" class="t">15</text>
<line x1="701.85" y1="152.40" x2="701.85" y2="153.80" stroke="#555" stroke-width="0.6"/>
<text transform="translate(701.85,158.80) scale(0.74,1)" text-anchor="middle" class="t">20</text>
<path d="M725.91,120.69 L729.07,124.33 L732.71,125.55 L737.56,123.12 L742.41,114.63 L747.26,108.56 L752.12,103.71 L754.54,97.64 L758.18,106.13 L763.04,104.92 L767.89,100.07 L771.53,97.64 L778.81,98.85 L784.88,114.63 L784.88,136.47 L778.81,123.12 L771.53,119.48 L767.89,120.69 L764.25,127.97 L759.40,127.97 L755.76,130.40 L752.12,125.55 L747.26,127.97 L742.41,135.26 L737.56,144.96 L732.71,146.18 L729.07,146.18 L725.91,142.54 Z" fill="#e4f1e2" stroke="none"/>
<path d="M725.91,131.62 L729.07,136.47 L732.71,137.20 L736.35,136.47 L738.04,131.62 L741.20,131.62 L744.84,117.05 L747.26,118.27 L750.18,120.69 L753.33,110.99 L756.97,120.69 L759.40,117.05 L763.04,117.05 L765.46,118.27 L770.32,108.56 L773.96,109.77 L776.87,109.05 L780.02,117.05 L784.88,126.76" fill="none" stroke="#4a9e4a" stroke-width="0.75" stroke-linejoin="round"/>
<path d="M725.91,126.76 L729.07,129.19 L732.71,129.92 L736.35,129.92 L739.99,127.97 L743.62,123.12 L747.26,117.05 L750.90,113.41 L754.54,112.93 L758.18,115.36 L761.82,117.05 L765.46,118.27 L769.10,112.20 L772.74,109.05 L776.38,110.99 L780.02,117.05 L784.88,126.76" fill="none" stroke="#5656f4" stroke-width="0.75" stroke-linejoin="round"/>
<line x1="723.40" y1="94.40" x2="787.60" y2="94.40" stroke="#6a6a6a" stroke-width="1"/>
<line x1="723.40" y1="94.40" x2="723.40" y2="152.40" stroke="#e2e2e2" stroke-width="1"/>
<line x1="787.60" y1="94.40" x2="787.60" y2="152.40" stroke="#a8a8a8" stroke-width="1"/>
<line x1="722.90" y1="152.40" x2="788.10" y2="152.40" stroke="#6a6a6a" stroke-width="1"/>
<line x1="722.00" y1="95.55" x2="723.40" y2="95.55" stroke="#555" stroke-width="0.6"/>
<text transform="translate(721.80,97.75) scale(0.74,1)" text-anchor="end" class="t">0.9</text>
<line x1="722.00" y1="106.78" x2="723.40" y2="106.78" stroke="#555" stroke-width="0.6"/>
<text transform="translate(721.80,108.98) scale(0.74,1)" text-anchor="end" class="t">0.8</text>
<line x1="722.00" y1="118.02" x2="723.40" y2="118.02" stroke="#555" stroke-width="0.6"/>
<text transform="translate(721.80,120.22) scale(0.74,1)" text-anchor="end" class="t">0.7</text>
<line x1="722.00" y1="129.25" x2="723.40" y2="129.25" stroke="#555" stroke-width="0.6"/>
<text transform="translate(721.80,131.45) scale(0.74,1)" text-anchor="end" class="t">0.6</text>
<line x1="722.00" y1="140.48" x2="723.40" y2="140.48" stroke="#555" stroke-width="0.6"/>
<text transform="translate(721.80,142.68) scale(0.74,1)" text-anchor="end" class="t">0.5</text>
<line x1="722.00" y1="151.71" x2="723.40" y2="151.71" stroke="#555" stroke-width="0.6"/>
<text transform="translate(721.80,153.91) scale(0.74,1)" text-anchor="end" class="t">0.4</text>
<line x1="726.35" y1="152.40" x2="726.35" y2="153.80" stroke="#555" stroke-width="0.6"/>
<text transform="translate(726.35,158.80) scale(0.74,1)" text-anchor="middle" class="t">0</text>
<line x1="739.06" y1="152.40" x2="739.06" y2="153.80" stroke="#555" stroke-width="0.6"/>
<text transform="translate(739.06,158.80) scale(0.74,1)" text-anchor="middle" class="t">5</text>
<line x1="751.78" y1="152.40" x2="751.78" y2="153.80" stroke="#555" stroke-width="0.6"/>
<text transform="translate(751.78,158.80) scale(0.74,1)" text-anchor="middle" class="t">10</text>
<line x1="764.49" y1="152.40" x2="764.49" y2="153.80" stroke="#555" stroke-width="0.6"/>
<text transform="translate(764.49,158.80) scale(0.74,1)" text-anchor="middle" class="t">15</text>
<line x1="777.20" y1="152.40" x2="777.20" y2="153.80" stroke="#555" stroke-width="0.6"/>
<text transform="translate(777.20,158.80) scale(0.74,1)" text-anchor="middle" class="t">20</text>
<path d="M422.97,192.45 L427.41,196.15 L432.36,198.62 L437.30,194.92 L442.24,187.51 L444.71,175.17 L449.66,176.41 L454.60,178.87 L459.54,178.87 L464.49,176.41 L469.43,173.94 L474.37,175.17 L479.32,183.81 L481.79,187.51 L481.79,214.67 L479.32,210.97 L474.37,203.56 L469.43,203.56 L464.49,206.03 L459.54,208.50 L454.60,206.03 L449.66,203.56 L444.71,203.56 L442.24,212.20 L437.30,219.61 L432.36,224.54 L427.41,222.08 L422.97,217.14 Z" fill="#ffe0e0" stroke="none"/>
<path d="M422.97,207.26 L426.18,208.50 L429.89,210.97 L433.59,210.97 L437.30,205.54 L439.77,201.09 L443.48,196.15 L445.95,188.75 L449.66,190.72 L453.37,188.75 L457.07,193.69 L460.78,192.45 L464.49,192.45 L468.19,191.22 L471.90,186.28 L475.61,191.22 L478.82,196.15 L481.29,201.09" fill="none" stroke="#f04545" stroke-width="0.75" stroke-linejoin="round"/>
<path d="M422.97,207.26 L426.18,209.73 L429.89,212.20 L433.59,211.46 L437.30,208.50 L441.01,201.09 L444.71,192.45 L448.42,189.98 L452.13,190.72 L455.84,192.45 L459.54,194.92 L463.25,194.92 L466.96,193.69 L470.67,189.98 L473.14,188.26 L476.84,194.92 L481.29,203.56" fill="none" stroke="#5656f4" stroke-width="0.75" stroke-linejoin="round"/>
<line x1="420.00" y1="169.40" x2="483.80" y2="169.40" stroke="#6a6a6a" stroke-width="1"/>
<line x1="420.00" y1="169.40" x2="420.00" y2="228.40" stroke="#e2e2e2" stroke-width="1"/>
<line x1="483.80" y1="169.40" x2="483.80" y2="228.40" stroke="#a8a8a8" stroke-width="1"/>
<line x1="419.50" y1="228.40" x2="484.30" y2="228.40" stroke="#6a6a6a" stroke-width="1"/>
<line x1="418.60" y1="170.29" x2="420.00" y2="170.29" stroke="#555" stroke-width="0.6"/>
<text transform="translate(418.40,172.49) scale(0.74,1)" text-anchor="end" class="t">0.7</text>
<line x1="418.60" y1="184.48" x2="420.00" y2="184.48" stroke="#555" stroke-width="0.6"/>
<text transform="translate(418.40,186.68) scale(0.74,1)" text-anchor="end" class="t">0.6</text>
<line x1="418.60" y1="198.50" x2="420.00" y2="198.50" stroke="#555" stroke-width="0.6"/>
<text transform="translate(418.40,200.70) scale(0.74,1)" text-anchor="end" class="t">0.5</text>
<line x1="418.60" y1="212.81" x2="420.00" y2="212.81" stroke="#555" stroke-width="0.6"/>
<text transform="translate(418.40,215.01) scale(0.74,1)" text-anchor="end" class="t">0.4</text>
<line x1="418.60" y1="226.24" x2="420.00" y2="226.24" stroke="#555" stroke-width="0.6"/>
<text transform="translate(418.40,228.44) scale(0.74,1)" text-anchor="end" class="t">0.3</text>
<line x1="422.93" y1="228.40" x2="422.93" y2="229.80" stroke="#555" stroke-width="0.6"/>
<text transform="translate(422.93,234.80) scale(0.74,1)" text-anchor="middle" class="t">0</text>
<line x1="435.57" y1="228.40" x2="435.57" y2="229.80" stroke="#555" stroke-width="0.6"/>
<text transform="translate(435.57,234.80) scale(0.74,1)" text-anchor="middle" class="t">5</text>
<line x1="448.20" y1="228.40" x2="448.20" y2="229.80" stroke="#555" stroke-width="0.6"/>
<text transform="translate(448.20,234.80) scale(0.74,1)" text-anchor="middle" class="t">10</text>
<line x1="460.83" y1="228.40" x2="460.83" y2="229.80" stroke="#555" stroke-width="0.6"/>
<text transform="translate(460.83,234.80) scale(0.74,1)" text-anchor="middle" class="t">15</text>
<line x1="473.46" y1="228.40" x2="473.46" y2="229.80" stroke="#555" stroke-width="0.6"/>
<text transform="translate(473.46,234.80) scale(0.74,1)" text-anchor="middle" class="t">20</text>
<path d="M498.97,193.69 L503.41,199.86 L508.36,197.39 L513.30,188.75 L519.47,176.41 L524.42,178.87 L528.12,175.17 L533.07,178.87 L538.01,178.87 L542.95,172.70 L547.89,178.87 L552.83,183.81 L557.28,189.98 L557.28,215.90 L552.83,210.97 L547.89,206.03 L542.95,204.79 L538.01,207.26 L533.07,207.26 L528.12,204.79 L524.42,204.79 L519.47,208.50 L513.30,219.61 L508.36,224.54 L503.41,223.31 L498.97,218.37 Z" fill="#f6e2f8" stroke="none"/>
<path d="M498.97,207.26 L502.18,210.97 L505.88,212.20 L509.59,210.97 L513.30,206.03 L517.00,198.62 L520.71,189.98 L523.68,193.69 L526.15,187.51 L529.36,192.45 L533.07,194.92 L536.77,193.69 L540.48,191.22 L544.19,186.28 L547.89,193.69 L551.60,194.92 L554.07,201.09 L557.28,203.56" fill="none" stroke="#d450d8" stroke-width="0.75" stroke-linejoin="round"/>
<path d="M498.97,207.26 L502.18,210.47 L505.88,212.20 L509.59,210.97 L513.30,207.26 L517.00,199.86 L520.71,193.69 L524.42,190.72 L528.12,192.45 L531.83,193.69 L535.54,195.66 L539.24,196.15 L542.95,194.92 L546.66,190.72 L550.36,192.45 L554.07,198.62 L557.28,203.56" fill="none" stroke="#5656f4" stroke-width="0.75" stroke-linejoin="round"/>
<line x1="496.00" y1="169.40" x2="560.20" y2="169.40" stroke="#6a6a6a" stroke-width="1"/>
<line x1="496.00" y1="169.40" x2="496.00" y2="228.40" stroke="#e2e2e2" stroke-width="1"/>
<line x1="560.20" y1="169.40" x2="560.20" y2="228.40" stroke="#a8a8a8" stroke-width="1"/>
<line x1="495.50" y1="228.40" x2="560.70" y2="228.40" stroke="#6a6a6a" stroke-width="1"/>
<line x1="494.60" y1="173.97" x2="496.00" y2="173.97" stroke="#555" stroke-width="0.6"/>
<text transform="translate(494.40,176.17) scale(0.74,1)" text-anchor="end" class="t">0.7</text>
<line x1="494.60" y1="186.82" x2="496.00" y2="186.82" stroke="#555" stroke-width="0.6"/>
<text transform="translate(494.40,189.02) scale(0.74,1)" text-anchor="end" class="t">0.6</text>
<line x1="494.60" y1="199.49" x2="496.00" y2="199.49" stroke="#555" stroke-width="0.6"/>
<text transform="translate(494.40,201.69) scale(0.74,1)" text-anchor="end" class="t">0.5</text>
<line x1="494.60" y1="212.81" x2="496.00" y2="212.81" stroke="#555" stroke-width="0.6"/>
<text transform="translate(494.40,215.01) scale(0.74,1)" text-anchor="end" class="t">0.4</text>
<line x1="494.60" y1="225.66" x2="496.00" y2="225.66" stroke="#555" stroke-width="0.6"/>
<text transform="translate(494.40,227.86) scale(0.74,1)" text-anchor="end" class="t">0.3</text>
<line x1="498.95" y1="228.40" x2="498.95" y2="229.80" stroke="#555" stroke-width="0.6"/>
<text transform="translate(498.95,234.80) scale(0.74,1)" text-anchor="middle" class="t">0</text>
<line x1="511.66" y1="228.40" x2="511.66" y2="229.80" stroke="#555" stroke-width="0.6"/>
<text transform="translate(511.66,234.80) scale(0.74,1)" text-anchor="middle" class="t">5</text>
<line x1="524.38" y1="228.40" x2="524.38" y2="229.80" stroke="#555" stroke-width="0.6"/>
<text transform="translate(524.38,234.80) scale(0.74,1)" text-anchor="middle" class="t">10</text>
<line x1="537.09" y1="228.40" x2="537.09" y2="229.80" stroke="#555" stroke-width="0.6"/>
<text transform="translate(537.09,234.80) scale(0.74,1)" text-anchor="middle" class="t">15</text>
<line x1="549.80" y1="228.40" x2="549.80" y2="229.80" stroke="#555" stroke-width="0.6"/>
<text transform="translate(549.80,234.80) scale(0.74,1)" text-anchor="middle" class="t">20</text>
<path d="M574.47,193.69 L578.18,199.86 L583.12,197.39 L589.30,188.75 L594.24,178.87 L599.18,175.17 L604.12,176.41 L609.07,173.94 L614.01,176.41 L618.95,172.70 L623.89,173.94 L628.83,180.11 L633.28,191.22 L633.28,210.97 L628.83,203.56 L623.89,197.39 L618.95,198.62 L614.01,204.79 L609.07,203.56 L604.12,202.33 L599.18,201.09 L594.24,208.50 L589.30,217.14 L583.12,223.31 L578.18,225.78 L574.47,223.31 Z" fill="#f8f7dd" stroke="none"/>
<path d="M574.47,208.50 L578.18,212.20 L581.88,209.73 L585.59,208.50 L589.30,203.56 L593.00,196.15 L596.71,189.98 L600.42,186.77 L604.12,187.51 L607.83,189.98 L611.54,192.45 L615.24,187.51 L618.95,188.75 L622.66,185.05 L626.36,188.75 L630.07,194.92 L633.28,201.09" fill="none" stroke="#c8c54a" stroke-width="0.75" stroke-linejoin="round"/>
<path d="M574.47,205.54 L578.18,208.50 L581.88,209.73 L585.59,208.50 L589.30,204.79 L593.00,199.86 L596.71,192.45 L600.42,188.75 L604.12,189.98 L607.83,192.45 L611.54,193.69 L615.24,193.69 L618.95,192.45 L622.66,188.26 L626.36,191.22 L630.07,197.39 L633.28,202.33" fill="none" stroke="#5656f4" stroke-width="0.75" stroke-linejoin="round"/>
<line x1="571.50" y1="169.40" x2="636.20" y2="169.40" stroke="#6a6a6a" stroke-width="1"/>
<line x1="571.50" y1="169.40" x2="571.50" y2="228.40" stroke="#e2e2e2" stroke-width="1"/>
<line x1="636.20" y1="169.40" x2="636.20" y2="228.40" stroke="#a8a8a8" stroke-width="1"/>
<line x1="571.00" y1="228.40" x2="636.70" y2="228.40" stroke="#6a6a6a" stroke-width="1"/>
<line x1="570.10" y1="171.81" x2="571.50" y2="171.81" stroke="#555" stroke-width="0.6"/>
<text transform="translate(569.90,174.01) scale(0.74,1)" text-anchor="end" class="t">0.7</text>
<line x1="570.10" y1="185.36" x2="571.50" y2="185.36" stroke="#555" stroke-width="0.6"/>
<text transform="translate(569.90,187.56) scale(0.74,1)" text-anchor="end" class="t">0.6</text>
<line x1="570.10" y1="197.92" x2="571.50" y2="197.92" stroke="#555" stroke-width="0.6"/>
<text transform="translate(569.90,200.12) scale(0.74,1)" text-anchor="end" class="t">0.5</text>
<line x1="570.10" y1="210.47" x2="571.50" y2="210.47" stroke="#555" stroke-width="0.6"/>
<text transform="translate(569.90,212.67) scale(0.74,1)" text-anchor="end" class="t">0.4</text>
<line x1="570.10" y1="223.03" x2="571.50" y2="223.03" stroke="#555" stroke-width="0.6"/>
<text transform="translate(569.90,225.23) scale(0.74,1)" text-anchor="end" class="t">0.3</text>
<line x1="574.48" y1="228.40" x2="574.48" y2="229.80" stroke="#555" stroke-width="0.6"/>
<text transform="translate(574.48,234.80) scale(0.74,1)" text-anchor="middle" class="t">0</text>
<line x1="587.29" y1="228.40" x2="587.29" y2="229.80" stroke="#555" stroke-width="0.6"/>
<text transform="translate(587.29,234.80) scale(0.74,1)" text-anchor="middle" class="t">5</text>
<line x1="600.10" y1="228.40" x2="600.10" y2="229.80" stroke="#555" stroke-width="0.6"/>
<text transform="translate(600.10,234.80) scale(0.74,1)" text-anchor="middle" class="t">10</text>
<line x1="612.91" y1="228.40" x2="612.91" y2="229.80" stroke="#555" stroke-width="0.6"/>
<text transform="translate(612.91,234.80) scale(0.74,1)" text-anchor="middle" class="t">15</text>
<line x1="625.72" y1="228.40" x2="625.72" y2="229.80" stroke="#555" stroke-width="0.6"/>
<text transform="translate(625.72,234.80) scale(0.74,1)" text-anchor="middle" class="t">20</text>
<path d="M650.01,177.79 L654.53,179.04 L659.55,179.54 L664.57,177.79 L672.10,175.28 L679.62,174.02 L687.15,175.28 L694.68,174.02 L699.70,172.77 L704.72,172.01 L709.74,174.02 L709.74,222.97 L702.21,220.46 L694.68,217.95 L689.66,219.21 L682.13,218.71 L674.60,219.21 L667.08,222.97 L659.55,225.49 L654.53,224.23 L650.01,221.72 Z" fill="#e1f6f4" stroke="none"/>
<path d="M650.01,200.88 L654.53,202.14 L659.55,202.89 L664.57,201.64 L669.59,198.62 L674.60,196.11 L679.62,195.36 L684.64,196.62 L689.66,197.12 L694.68,196.62 L698.44,194.86 L700.95,193.60 L704.72,195.36 L709.74,200.38" fill="none" stroke="#45cfcf" stroke-width="0.75" stroke-linejoin="round"/>
<path d="M650.01,201.64 L654.53,203.39 L659.55,204.15 L664.57,202.89 L669.59,199.63 L674.60,197.12 L679.62,196.62 L684.64,197.87 L689.66,198.37 L694.68,198.37 L698.44,196.11 L700.95,194.86 L704.72,197.12 L709.74,201.64" fill="none" stroke="#5656f4" stroke-width="0.75" stroke-linejoin="round"/>
<line x1="647.30" y1="169.40" x2="712.40" y2="169.40" stroke="#6a6a6a" stroke-width="1"/>
<line x1="647.30" y1="169.40" x2="647.30" y2="228.40" stroke="#e2e2e2" stroke-width="1"/>
<line x1="712.40" y1="169.40" x2="712.40" y2="228.40" stroke="#a8a8a8" stroke-width="1"/>
<line x1="646.80" y1="228.40" x2="712.90" y2="228.40" stroke="#6a6a6a" stroke-width="1"/>
<line x1="645.90" y1="178.17" x2="647.30" y2="178.17" stroke="#555" stroke-width="0.6"/>
<text transform="translate(645.70,180.37) scale(0.74,1)" text-anchor="end" class="t">1.5</text>
<line x1="645.90" y1="186.73" x2="647.30" y2="186.73" stroke="#555" stroke-width="0.6"/>
<text transform="translate(645.70,188.93) scale(0.74,1)" text-anchor="end" class="t">1.2</text>
<line x1="645.90" y1="195.60" x2="647.30" y2="195.60" stroke="#555" stroke-width="0.6"/>
<text transform="translate(645.70,197.80) scale(0.74,1)" text-anchor="end" class="t">0.9</text>
<line x1="645.90" y1="204.76" x2="647.30" y2="204.76" stroke="#555" stroke-width="0.6"/>
<text transform="translate(645.70,206.96) scale(0.74,1)" text-anchor="end" class="t">0.6</text>
<line x1="645.90" y1="213.33" x2="647.30" y2="213.33" stroke="#555" stroke-width="0.6"/>
<text transform="translate(645.70,215.53) scale(0.74,1)" text-anchor="end" class="t">0.3</text>
<line x1="645.90" y1="222.79" x2="647.30" y2="222.79" stroke="#555" stroke-width="0.6"/>
<text transform="translate(645.70,224.99) scale(0.74,1)" text-anchor="end" class="t">0.0</text>
<line x1="650.29" y1="228.40" x2="650.29" y2="229.80" stroke="#555" stroke-width="0.6"/>
<text transform="translate(650.29,234.80) scale(0.74,1)" text-anchor="middle" class="t">0</text>
<line x1="663.18" y1="228.40" x2="663.18" y2="229.80" stroke="#555" stroke-width="0.6"/>
<text transform="translate(663.18,234.80) scale(0.74,1)" text-anchor="middle" class="t">5</text>
<line x1="676.07" y1="228.40" x2="676.07" y2="229.80" stroke="#555" stroke-width="0.6"/>
<text transform="translate(676.07,234.80) scale(0.74,1)" text-anchor="middle" class="t">10</text>
<line x1="688.96" y1="228.40" x2="688.96" y2="229.80" stroke="#555" stroke-width="0.6"/>
<text transform="translate(688.96,234.80) scale(0.74,1)" text-anchor="middle" class="t">15</text>
<line x1="701.85" y1="228.40" x2="701.85" y2="229.80" stroke="#555" stroke-width="0.6"/>
<text transform="translate(701.85,234.80) scale(0.74,1)" text-anchor="middle" class="t">20</text>
<path d="M726.47,192.45 L731.41,197.39 L736.36,193.69 L742.54,186.28 L748.71,178.87 L751.68,172.70 L757.37,175.17 L763.54,178.87 L769.72,177.64 L775.90,173.94 L780.84,176.41 L785.29,187.51 L785.29,215.90 L780.84,203.56 L775.90,199.86 L769.72,203.56 L763.54,204.79 L757.37,202.33 L751.68,198.62 L748.71,206.03 L742.54,215.90 L736.36,223.31 L731.41,224.54 L726.47,222.08 Z" fill="#e4f1e2" stroke="none"/>
<path d="M726.47,206.03 L728.94,208.50 L731.41,209.73 L735.12,210.97 L738.83,208.50 L742.54,203.56 L746.24,197.39 L749.95,193.69 L751.68,185.05 L754.89,187.51 L758.60,188.75 L762.31,192.45 L766.02,193.69 L769.72,191.22 L773.43,188.75 L777.14,188.26 L779.61,188.75 L782.08,196.15 L784.55,202.33" fill="none" stroke="#4a9e4a" stroke-width="0.75" stroke-linejoin="round"/>
<path d="M726.47,205.54 L730.18,210.97 L733.89,212.94 L737.59,211.46 L741.30,208.00 L745.01,201.09 L748.71,192.45 L752.42,189.98 L756.13,191.71 L759.84,193.69 L763.54,195.66 L767.25,194.92 L770.96,192.45 L774.67,188.75 L777.14,188.26 L780.84,194.92 L784.55,204.79" fill="none" stroke="#5656f4" stroke-width="0.75" stroke-linejoin="round"/>
<line x1="723.40" y1="169.40" x2="787.60" y2="169.40" stroke="#6a6a6a" stroke-width="1"/>
<line x1="723.40" y1="169.40" x2="723.40" y2="228.40" stroke="#e2e2e2" stroke-width="1"/>
<line x1="787.60" y1="169.40" x2="787.60" y2="228.40" stroke="#a8a8a8" stroke-width="1"/>
<line x1="722.90" y1="228.40" x2="788.10" y2="228.40" stroke="#6a6a6a" stroke-width="1"/>
<line x1="722.00" y1="171.81" x2="723.40" y2="171.81" stroke="#555" stroke-width="0.6"/>
<text transform="translate(721.80,174.01) scale(0.74,1)" text-anchor="end" class="t">0.7</text>
<line x1="722.00" y1="186.24" x2="723.40" y2="186.24" stroke="#555" stroke-width="0.6"/>
<text transform="translate(721.80,188.44) scale(0.74,1)" text-anchor="end" class="t">0.6</text>
<line x1="722.00" y1="199.49" x2="723.40" y2="199.49" stroke="#555" stroke-width="0.6"/>
<text transform="translate(721.80,201.69) scale(0.74,1)" text-anchor="end" class="t">0.5</text>
<line x1="722.00" y1="212.81" x2="723.40" y2="212.81" stroke="#555" stroke-width="0.6"/>
<text transform="translate(721.80,215.01) scale(0.74,1)" text-anchor="end" class="t">0.4</text>
<line x1="722.00" y1="226.24" x2="723.40" y2="226.24" stroke="#555" stroke-width="0.6"/>
<text transform="translate(721.80,228.44) scale(0.74,1)" text-anchor="end" class="t">0.3</text>
<line x1="726.35" y1="228.40" x2="726.35" y2="229.80" stroke="#555" stroke-width="0.6"/>
<text transform="translate(726.35,234.80) scale(0.74,1)" text-anchor="middle" class="t">0</text>
<line x1="739.06" y1="228.40" x2="739.06" y2="229.80" stroke="#555" stroke-width="0.6"/>
<text transform="translate(739.06,234.80) scale(0.74,1)" text-anchor="middle" class="t">5</text>
<line x1="751.78" y1="228.40" x2="751.78" y2="229.80" stroke="#555" stroke-width="0.6"/>
<text transform="translate(751.78,234.80) scale(0.74,1)" text-anchor="middle" class="t">10</text>
<line x1="764.49" y1="228.40" x2="764.49" y2="229.80" stroke="#555" stroke-width="0.6"/>
<text transform="translate(764.49,234.80) scale(0.74,1)" text-anchor="middle" class="t">15</text>
<line x1="777.20" y1="228.40" x2="777.20" y2="229.80" stroke="#555" stroke-width="0.6"/>
<text transform="translate(777.20,234.80) scale(0.74,1)" text-anchor="middle" class="t">20</text>
<text x="51.5" y="12.7" text-anchor="middle" class="h" textLength="34.0" lengthAdjust="spacingAndGlyphs">AdaCNP</text>
<text x="125.8" y="12.7" text-anchor="middle" class="h" textLength="18.6" lengthAdjust="spacingAndGlyphs">CNP</text>
<text x="202.1" y="12.7" text-anchor="middle" class="h" textLength="18.0" lengthAdjust="spacingAndGlyphs">ANP</text>
<text x="279.7" y="12.7" text-anchor="middle" class="h" textLength="12.6" lengthAdjust="spacingAndGlyphs">GP</text>
<text x="353.1" y="12.7" text-anchor="middle" class="h" textLength="12.6" lengthAdjust="spacingAndGlyphs">NP</text>
<text x="451.8" y="12.7" text-anchor="middle" class="h" textLength="34.0" lengthAdjust="spacingAndGlyphs">AdaCNP</text>
<text x="525.6" y="12.7" text-anchor="middle" class="h" textLength="18.6" lengthAdjust="spacingAndGlyphs">CNP</text>
<text x="602.4" y="12.7" text-anchor="middle" class="h" textLength="18.0" lengthAdjust="spacingAndGlyphs">ANP</text>
<text x="679.4" y="12.7" text-anchor="middle" class="h" textLength="12.6" lengthAdjust="spacingAndGlyphs">GP</text>
<text x="753.4" y="10.2" text-anchor="middle" class="h" textLength="12.6" lengthAdjust="spacingAndGlyphs">NP</text>
<text transform="translate(8.9,45.3) rotate(-90)" text-anchor="middle" class="s" textLength="37.2" lengthAdjust="spacingAndGlyphs">Sample 1</text>
<text transform="translate(8.9,122.7) rotate(-90)" text-anchor="middle" class="s" textLength="37.2" lengthAdjust="spacingAndGlyphs">Sample 2</text>
<text transform="translate(8.9,201.2) rotate(-90)" text-anchor="middle" class="s" textLength="37.2" lengthAdjust="spacingAndGlyphs">Sample 3</text>
<text transform="translate(409.1,48.1) rotate(-90)" text-anchor="middle" class="s" textLength="37.2" lengthAdjust="spacingAndGlyphs">Sample 1</text>
<text transform="translate(409.1,125.5) rotate(-90)" text-anchor="middle" class="s" textLength="37.2" lengthAdjust="spacingAndGlyphs">Sample 2</text>
<text transform="translate(409.1,203.3) rotate(-90)" text-anchor="middle" class="s" textLength="37.2" lengthAdjust="spacingAndGlyphs">Sample 3</text>
<text x="1.3" y="9.8" class="pl">(a)</text>
<text x="398.2" y="10.0" class="pl">(b)</text>
<line x1="393.5" y1="5.5" x2="393.5" y2="239" stroke="#555" stroke-width="1.1" stroke-dasharray="5,3.8"/>
</svg>
</body></html>
